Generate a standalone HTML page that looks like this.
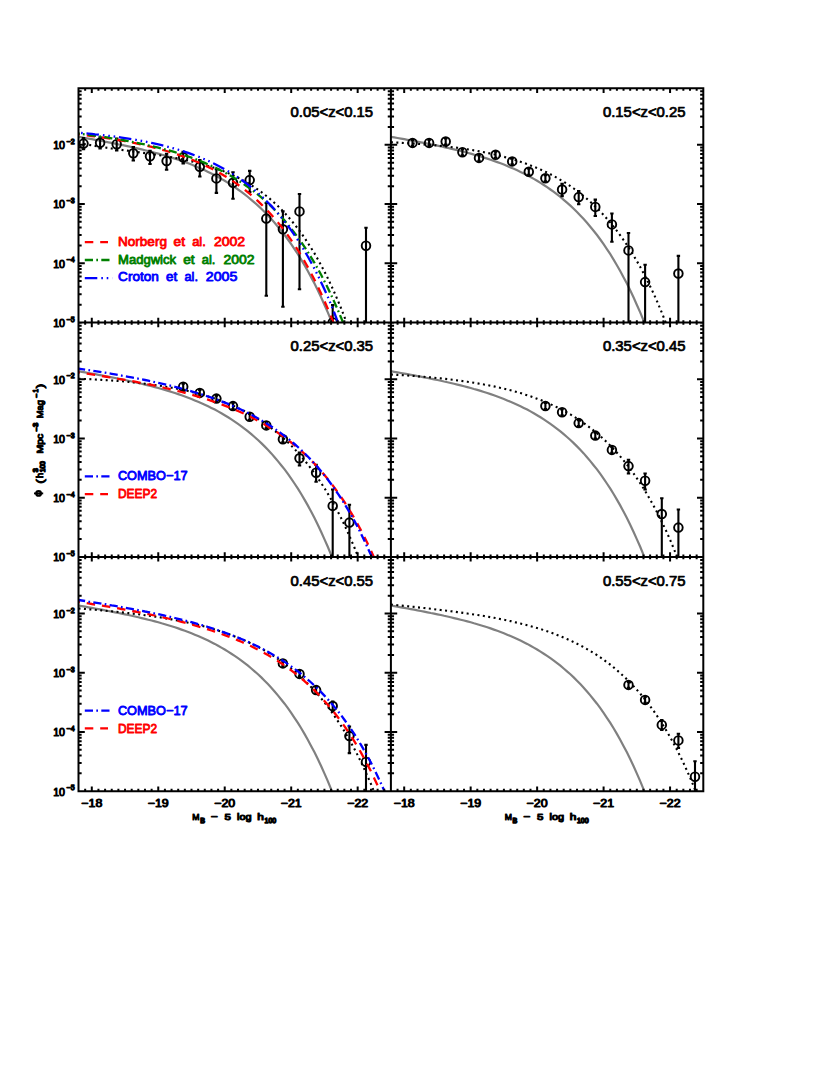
<!DOCTYPE html><html><head><meta charset="utf-8"><style>html,body{margin:0;padding:0;background:#fff}body{width:830px;height:1075px;position:relative;overflow:hidden;font-family:"Liberation Sans",sans-serif}</style></head><body><svg width="830" height="1075" viewBox="0 0 830 1075" style="position:absolute;left:0;top:0">
<rect width="830" height="1075" fill="#fff"/>
<path d="M78.5,136.8 L81.8,137.4 L85.1,138.0 L88.5,138.6 L91.8,139.2 L95.1,139.8 L98.4,140.4 L101.8,141.0 L105.1,141.7 L108.4,142.3 L111.7,142.9 L115.1,143.6 L118.4,144.3 L121.7,144.9 L125.0,145.6 L128.4,146.3 L131.7,147.1 L135.0,147.8 L138.3,148.6 L141.6,149.4 L145.0,150.2 L148.3,151.0 L151.6,151.8 L154.9,152.7 L158.3,153.6 L161.6,154.6 L164.9,155.5 L168.2,156.5 L171.6,157.6 L174.9,158.6 L178.2,159.7 L181.5,160.9 L184.9,162.1 L188.2,163.3 L191.5,164.6 L194.8,166.0 L198.1,167.4 L201.5,168.8 L204.8,170.3 L208.1,171.9 L211.4,173.5 L214.8,175.2 L218.1,177.0 L221.4,178.9 L224.7,180.8 L228.1,182.9 L231.4,185.0 L234.7,187.2 L238.0,189.5 L241.4,191.9 L244.7,194.4 L248.0,197.0 L251.3,199.8 L254.6,202.6 L258.0,205.6 L261.3,208.7 L264.6,212.0 L267.9,215.4 L271.3,219.0 L274.6,222.8 L277.9,226.7 L281.2,230.8 L284.6,235.0 L287.9,239.5 L291.2,244.2 L294.5,249.1 L297.9,254.2 L301.2,259.6 L304.5,265.2 L307.8,271.0 L311.1,277.2 L314.5,283.6 L317.8,290.3 L321.1,297.3 L324.4,304.7 L327.8,312.4 L331.1,320.4 L331.9,322.5" fill="none" stroke="#808080" stroke-width="2.2" stroke-dashoffset="0"/>
<path d="M390.9,136.8 L394.2,137.4 L397.5,138.0 L400.9,138.6 L404.2,139.2 L407.5,139.8 L410.8,140.4 L414.2,141.0 L417.5,141.7 L420.8,142.3 L424.1,142.9 L427.5,143.6 L430.8,144.3 L434.1,144.9 L437.4,145.6 L440.8,146.3 L444.1,147.1 L447.4,147.8 L450.7,148.6 L454.0,149.4 L457.4,150.2 L460.7,151.0 L464.0,151.8 L467.3,152.7 L470.7,153.6 L474.0,154.6 L477.3,155.5 L480.6,156.5 L484.0,157.6 L487.3,158.6 L490.6,159.7 L493.9,160.9 L497.3,162.1 L500.6,163.3 L503.9,164.6 L507.2,166.0 L510.5,167.4 L513.9,168.8 L517.2,170.3 L520.5,171.9 L523.8,173.5 L527.2,175.2 L530.5,177.0 L533.8,178.9 L537.1,180.8 L540.5,182.9 L543.8,185.0 L547.1,187.2 L550.4,189.5 L553.8,191.9 L557.1,194.4 L560.4,197.0 L563.7,199.8 L567.0,202.6 L570.4,205.6 L573.7,208.7 L577.0,212.0 L580.3,215.4 L583.7,219.0 L587.0,222.8 L590.3,226.7 L593.6,230.8 L597.0,235.0 L600.3,239.5 L603.6,244.2 L606.9,249.1 L610.3,254.2 L613.6,259.6 L616.9,265.2 L620.2,271.0 L623.5,277.2 L626.9,283.6 L630.2,290.3 L633.5,297.3 L636.8,304.7 L640.2,312.4 L643.5,320.4 L644.3,322.5" fill="none" stroke="#808080" stroke-width="2.2" stroke-dashoffset="0"/>
<path d="M78.5,371.2 L81.8,371.8 L85.1,372.4 L88.5,373.0 L91.8,373.6 L95.1,374.2 L98.4,374.8 L101.8,375.4 L105.1,376.1 L108.4,376.7 L111.7,377.3 L115.1,378.0 L118.4,378.7 L121.7,379.3 L125.0,380.0 L128.4,380.7 L131.7,381.5 L135.0,382.2 L138.3,383.0 L141.6,383.8 L145.0,384.6 L148.3,385.4 L151.6,386.2 L154.9,387.1 L158.3,388.0 L161.6,389.0 L164.9,389.9 L168.2,390.9 L171.6,392.0 L174.9,393.0 L178.2,394.1 L181.5,395.3 L184.9,396.5 L188.2,397.7 L191.5,399.0 L194.8,400.4 L198.1,401.8 L201.5,403.2 L204.8,404.7 L208.1,406.3 L211.4,407.9 L214.8,409.6 L218.1,411.4 L221.4,413.3 L224.7,415.2 L228.1,417.3 L231.4,419.4 L234.7,421.6 L238.0,423.9 L241.4,426.3 L244.7,428.8 L248.0,431.4 L251.3,434.2 L254.6,437.0 L258.0,440.0 L261.3,443.1 L264.6,446.4 L267.9,449.8 L271.3,453.4 L274.6,457.2 L277.9,461.1 L281.2,465.2 L284.6,469.4 L287.9,473.9 L291.2,478.6 L294.5,483.5 L297.9,488.6 L301.2,494.0 L304.5,499.6 L307.8,505.4 L311.1,511.6 L314.5,518.0 L317.8,524.7 L321.1,531.7 L324.4,539.1 L327.8,546.8 L331.1,554.8 L331.9,556.9" fill="none" stroke="#808080" stroke-width="2.2" stroke-dashoffset="0"/>
<path d="M390.9,371.2 L394.2,371.8 L397.5,372.4 L400.9,373.0 L404.2,373.6 L407.5,374.2 L410.8,374.8 L414.2,375.4 L417.5,376.1 L420.8,376.7 L424.1,377.3 L427.5,378.0 L430.8,378.7 L434.1,379.3 L437.4,380.0 L440.8,380.7 L444.1,381.5 L447.4,382.2 L450.7,383.0 L454.0,383.8 L457.4,384.6 L460.7,385.4 L464.0,386.2 L467.3,387.1 L470.7,388.0 L474.0,389.0 L477.3,389.9 L480.6,390.9 L484.0,392.0 L487.3,393.0 L490.6,394.1 L493.9,395.3 L497.3,396.5 L500.6,397.7 L503.9,399.0 L507.2,400.4 L510.5,401.8 L513.9,403.2 L517.2,404.7 L520.5,406.3 L523.8,407.9 L527.2,409.6 L530.5,411.4 L533.8,413.3 L537.1,415.2 L540.5,417.3 L543.8,419.4 L547.1,421.6 L550.4,423.9 L553.8,426.3 L557.1,428.8 L560.4,431.4 L563.7,434.2 L567.0,437.0 L570.4,440.0 L573.7,443.1 L577.0,446.4 L580.3,449.8 L583.7,453.4 L587.0,457.2 L590.3,461.1 L593.6,465.2 L597.0,469.4 L600.3,473.9 L603.6,478.6 L606.9,483.5 L610.3,488.6 L613.6,494.0 L616.9,499.6 L620.2,505.4 L623.5,511.6 L626.9,518.0 L630.2,524.7 L633.5,531.7 L636.8,539.1 L640.2,546.8 L643.5,554.8 L644.3,556.9" fill="none" stroke="#808080" stroke-width="2.2" stroke-dashoffset="0"/>
<path d="M78.5,605.5 L81.8,606.1 L85.1,606.7 L88.5,607.3 L91.8,607.9 L95.1,608.5 L98.4,609.1 L101.8,609.7 L105.1,610.4 L108.4,611.0 L111.7,611.6 L115.1,612.3 L118.4,613.0 L121.7,613.6 L125.0,614.3 L128.4,615.0 L131.7,615.8 L135.0,616.5 L138.3,617.3 L141.6,618.1 L145.0,618.9 L148.3,619.7 L151.6,620.5 L154.9,621.4 L158.3,622.3 L161.6,623.3 L164.9,624.2 L168.2,625.2 L171.6,626.3 L174.9,627.3 L178.2,628.4 L181.5,629.6 L184.9,630.8 L188.2,632.0 L191.5,633.3 L194.8,634.7 L198.1,636.1 L201.5,637.5 L204.8,639.0 L208.1,640.6 L211.4,642.2 L214.8,643.9 L218.1,645.7 L221.4,647.6 L224.7,649.5 L228.1,651.6 L231.4,653.7 L234.7,655.9 L238.0,658.2 L241.4,660.6 L244.7,663.1 L248.0,665.7 L251.3,668.5 L254.6,671.3 L258.0,674.3 L261.3,677.4 L264.6,680.7 L267.9,684.1 L271.3,687.7 L274.6,691.5 L277.9,695.4 L281.2,699.5 L284.6,703.7 L287.9,708.2 L291.2,712.9 L294.5,717.8 L297.9,722.9 L301.2,728.3 L304.5,733.9 L307.8,739.7 L311.1,745.9 L314.5,752.3 L317.8,759.0 L321.1,766.0 L324.4,773.4 L327.8,781.1 L331.1,789.1 L331.9,791.2" fill="none" stroke="#808080" stroke-width="2.2" stroke-dashoffset="0"/>
<path d="M390.9,605.5 L394.2,606.1 L397.5,606.7 L400.9,607.3 L404.2,607.9 L407.5,608.5 L410.8,609.1 L414.2,609.7 L417.5,610.4 L420.8,611.0 L424.1,611.6 L427.5,612.3 L430.8,613.0 L434.1,613.6 L437.4,614.3 L440.8,615.0 L444.1,615.8 L447.4,616.5 L450.7,617.3 L454.0,618.1 L457.4,618.9 L460.7,619.7 L464.0,620.5 L467.3,621.4 L470.7,622.3 L474.0,623.3 L477.3,624.2 L480.6,625.2 L484.0,626.3 L487.3,627.3 L490.6,628.4 L493.9,629.6 L497.3,630.8 L500.6,632.0 L503.9,633.3 L507.2,634.7 L510.5,636.1 L513.9,637.5 L517.2,639.0 L520.5,640.6 L523.8,642.2 L527.2,643.9 L530.5,645.7 L533.8,647.6 L537.1,649.5 L540.5,651.6 L543.8,653.7 L547.1,655.9 L550.4,658.2 L553.8,660.6 L557.1,663.1 L560.4,665.7 L563.7,668.5 L567.0,671.3 L570.4,674.3 L573.7,677.4 L577.0,680.7 L580.3,684.1 L583.7,687.7 L587.0,691.5 L590.3,695.4 L593.6,699.5 L597.0,703.7 L600.3,708.2 L603.6,712.9 L606.9,717.8 L610.3,722.9 L613.6,728.3 L616.9,733.9 L620.2,739.7 L623.5,745.9 L626.9,752.3 L630.2,759.0 L633.5,766.0 L636.8,773.4 L640.2,781.1 L643.5,789.1 L644.3,791.2" fill="none" stroke="#808080" stroke-width="2.2" stroke-dashoffset="0"/>
<path d="M78.5,142.9 L81.8,143.6 L85.1,144.2 L88.5,144.8 L91.8,145.3 L95.1,145.9 L98.4,146.4 L101.8,147.0 L105.1,147.5 L108.4,148.0 L111.7,148.5 L115.1,149.0 L118.4,149.4 L121.7,149.9 L125.0,150.4 L128.4,150.8 L131.7,151.3 L135.0,151.7 L138.3,152.2 L141.6,152.7 L145.0,153.1 L148.3,153.6 L151.6,154.1 L154.9,154.6 L158.3,155.1 L161.6,155.6 L164.9,156.2 L168.2,156.7 L171.6,157.3 L174.9,157.9 L178.2,158.5 L181.5,159.2 L184.9,159.9 L188.2,160.6 L191.5,161.4 L194.8,162.2 L198.1,163.0 L201.5,163.9 L204.8,164.9 L208.1,165.9 L211.4,166.9 L214.8,168.0 L218.1,169.2 L221.4,170.4 L224.7,171.7 L228.1,173.1 L231.4,174.6 L234.7,176.1 L238.0,177.7 L241.4,179.5 L244.7,181.3 L248.0,183.2 L251.3,185.2 L254.6,187.4 L258.0,189.7 L261.3,192.0 L264.6,194.6 L267.9,197.2 L271.3,200.0 L274.6,203.0 L277.9,206.1 L281.2,209.4 L284.6,212.9 L287.9,216.5 L291.2,220.3 L294.5,224.4 L297.9,228.6 L301.2,233.1 L304.5,237.8 L307.8,242.8 L311.1,248.0 L314.5,253.4 L317.8,259.2 L321.1,265.2 L324.4,271.5 L327.8,278.2 L331.1,285.2 L334.4,292.5 L337.7,300.2 L341.1,308.3 L344.4,316.8 L346.5,322.5" fill="none" stroke="#000" stroke-width="2.1" stroke-dasharray="2 3.45" stroke-dashoffset="0"/>
<path d="M390.9,142.3 L394.2,142.5 L397.5,142.6 L400.9,142.8 L404.2,143.0 L407.5,143.2 L410.8,143.4 L414.2,143.6 L417.5,143.9 L420.8,144.1 L424.1,144.4 L427.5,144.6 L430.8,144.9 L434.1,145.2 L437.4,145.5 L440.8,145.9 L444.1,146.2 L447.4,146.6 L450.7,147.0 L454.0,147.4 L457.4,147.8 L460.7,148.3 L464.0,148.8 L467.3,149.3 L470.7,149.8 L474.0,150.4 L477.3,150.9 L480.6,151.6 L484.0,152.2 L487.3,152.9 L490.6,153.6 L493.9,154.3 L497.3,155.1 L500.6,155.9 L503.9,156.8 L507.2,157.7 L510.5,158.6 L513.9,159.6 L517.2,160.7 L520.5,161.8 L523.8,162.9 L527.2,164.1 L530.5,165.4 L533.8,166.7 L537.1,168.1 L540.5,169.5 L543.8,171.0 L547.1,172.6 L550.4,174.3 L553.8,176.0 L557.1,177.9 L560.4,179.8 L563.7,181.8 L567.0,183.9 L570.4,186.1 L573.7,188.5 L577.0,190.9 L580.3,193.4 L583.7,196.1 L587.0,198.9 L590.3,201.8 L593.6,204.9 L597.0,208.1 L600.3,211.5 L603.6,215.0 L606.9,218.7 L610.3,222.6 L613.6,226.7 L616.9,230.9 L620.2,235.4 L623.5,240.0 L626.9,244.9 L630.2,250.0 L633.5,255.4 L636.8,261.0 L640.2,266.9 L643.5,273.0 L646.8,279.5 L650.1,286.3 L653.5,293.3 L656.8,300.7 L660.1,308.5 L663.4,316.6 L665.7,322.5" fill="none" stroke="#000" stroke-width="2.1" stroke-dasharray="2 3.45" stroke-dashoffset="0"/>
<path d="M78.5,378.7 L81.8,378.8 L85.1,379.0 L88.5,379.1 L91.8,379.3 L95.1,379.5 L98.4,379.7 L101.8,379.9 L105.1,380.1 L108.4,380.3 L111.7,380.5 L115.1,380.8 L118.4,381.0 L121.7,381.3 L125.0,381.6 L128.4,381.9 L131.7,382.2 L135.0,382.6 L138.3,382.9 L141.6,383.3 L145.0,383.7 L148.3,384.1 L151.6,384.5 L154.9,385.0 L158.3,385.5 L161.6,386.0 L164.9,386.5 L168.2,387.1 L171.6,387.7 L174.9,388.3 L178.2,388.9 L181.5,389.6 L184.9,390.3 L188.2,391.1 L191.5,391.9 L194.8,392.7 L198.1,393.6 L201.5,394.5 L204.8,395.4 L208.1,396.4 L211.4,397.5 L214.8,398.6 L218.1,399.7 L221.4,401.0 L224.7,402.2 L228.1,403.6 L231.4,405.0 L234.7,406.4 L238.0,408.0 L241.4,409.6 L244.7,411.3 L248.0,413.1 L251.3,414.9 L254.6,416.9 L258.0,418.9 L261.3,421.1 L264.6,423.3 L267.9,425.7 L271.3,428.1 L274.6,430.7 L277.9,433.4 L281.2,436.2 L284.6,439.2 L287.9,442.3 L291.2,445.6 L294.5,449.0 L297.9,452.6 L301.2,456.3 L304.5,460.3 L307.8,464.4 L311.1,468.7 L314.5,473.2 L317.8,478.0 L321.1,482.9 L324.4,488.1 L327.8,493.6 L331.1,499.3 L334.4,505.2 L337.7,511.5 L341.1,518.0 L344.4,524.9 L347.7,532.1 L351.0,539.6 L354.4,547.5 L357.7,555.7 L358.1,556.9" fill="none" stroke="#000" stroke-width="2.1" stroke-dasharray="2 3.45" stroke-dashoffset="0"/>
<path d="M390.9,374.5 L394.2,374.7 L397.5,374.9 L400.9,375.1 L404.2,375.3 L407.5,375.5 L410.8,375.8 L414.2,376.0 L417.5,376.3 L420.8,376.6 L424.1,376.8 L427.5,377.1 L430.8,377.4 L434.1,377.7 L437.4,378.1 L440.8,378.4 L444.1,378.8 L447.4,379.1 L450.7,379.5 L454.0,379.9 L457.4,380.4 L460.7,380.8 L464.0,381.3 L467.3,381.7 L470.7,382.2 L474.0,382.8 L477.3,383.3 L480.6,383.9 L484.0,384.5 L487.3,385.1 L490.6,385.8 L493.9,386.4 L497.3,387.2 L500.6,387.9 L503.9,388.7 L507.2,389.5 L510.5,390.3 L513.9,391.2 L517.2,392.2 L520.5,393.1 L523.8,394.2 L527.2,395.2 L530.5,396.3 L533.8,397.5 L537.1,398.7 L540.5,400.0 L543.8,401.3 L547.1,402.7 L550.4,404.2 L553.8,405.7 L557.1,407.3 L560.4,408.9 L563.7,410.7 L567.0,412.5 L570.4,414.4 L573.7,416.4 L577.0,418.5 L580.3,420.7 L583.7,423.0 L587.0,425.4 L590.3,427.9 L593.6,430.5 L597.0,433.3 L600.3,436.1 L603.6,439.1 L606.9,442.3 L610.3,445.6 L613.6,449.0 L616.9,452.7 L620.2,456.4 L623.5,460.4 L626.9,464.5 L630.2,468.9 L633.5,473.4 L636.8,478.2 L640.2,483.1 L643.5,488.3 L646.8,493.8 L650.1,499.5 L653.5,505.5 L656.8,511.7 L660.1,518.3 L663.4,525.1 L666.8,532.3 L670.1,539.8 L673.4,547.7 L676.7,555.9 L677.1,556.9" fill="none" stroke="#000" stroke-width="2.1" stroke-dasharray="2 3.45" stroke-dashoffset="0"/>
<path d="M78.5,608.5 L81.8,608.7 L85.1,609.0 L88.5,609.3 L91.8,609.5 L95.1,609.8 L98.4,610.1 L101.8,610.4 L105.1,610.7 L108.4,611.0 L111.7,611.3 L115.1,611.7 L118.4,612.0 L121.7,612.4 L125.0,612.7 L128.4,613.1 L131.7,613.5 L135.0,613.9 L138.3,614.3 L141.6,614.7 L145.0,615.2 L148.3,615.6 L151.6,616.1 L154.9,616.6 L158.3,617.1 L161.6,617.6 L164.9,618.2 L168.2,618.8 L171.6,619.4 L174.9,620.0 L178.2,620.6 L181.5,621.3 L184.9,622.0 L188.2,622.7 L191.5,623.4 L194.8,624.2 L198.1,625.0 L201.5,625.8 L204.8,626.7 L208.1,627.6 L211.4,628.6 L214.8,629.5 L218.1,630.6 L221.4,631.6 L224.7,632.8 L228.1,633.9 L231.4,635.1 L234.7,636.4 L238.0,637.7 L241.4,639.1 L244.7,640.5 L248.0,642.0 L251.3,643.6 L254.6,645.2 L258.0,646.9 L261.3,648.7 L264.6,650.5 L267.9,652.4 L271.3,654.5 L274.6,656.6 L277.9,658.8 L281.2,661.1 L284.6,663.5 L287.9,666.0 L291.2,668.6 L294.5,671.4 L297.9,674.2 L301.2,677.2 L304.5,680.4 L307.8,683.7 L311.1,687.1 L314.5,690.7 L317.8,694.4 L321.1,698.3 L324.4,702.4 L327.8,706.7 L331.1,711.2 L334.4,715.9 L337.7,720.8 L341.1,725.9 L344.4,731.3 L347.7,736.9 L351.0,742.8 L354.4,748.9 L357.7,755.3 L361.0,762.0 L364.3,769.1 L367.6,776.4 L371.0,784.1 L373.9,791.2" fill="none" stroke="#000" stroke-width="2.1" stroke-dasharray="2 3.45" stroke-dashoffset="0"/>
<path d="M390.9,604.5 L394.2,604.8 L397.5,605.2 L400.9,605.5 L404.2,605.9 L407.5,606.2 L410.8,606.6 L414.2,606.9 L417.5,607.3 L420.8,607.7 L424.1,608.0 L427.5,608.4 L430.8,608.8 L434.1,609.2 L437.4,609.6 L440.8,610.0 L444.1,610.4 L447.4,610.8 L450.7,611.2 L454.0,611.6 L457.4,612.1 L460.7,612.5 L464.0,613.0 L467.3,613.5 L470.7,614.0 L474.0,614.5 L477.3,615.0 L480.6,615.5 L484.0,616.0 L487.3,616.6 L490.6,617.2 L493.9,617.8 L497.3,618.4 L500.6,619.1 L503.9,619.7 L507.2,620.4 L510.5,621.1 L513.9,621.9 L517.2,622.7 L520.5,623.5 L523.8,624.3 L527.2,625.2 L530.5,626.1 L533.8,627.0 L537.1,628.0 L540.5,629.0 L543.8,630.1 L547.1,631.2 L550.4,632.4 L553.8,633.6 L557.1,634.9 L560.4,636.2 L563.7,637.6 L567.0,639.0 L570.4,640.5 L573.7,642.1 L577.0,643.7 L580.3,645.4 L583.7,647.2 L587.0,649.1 L590.3,651.0 L593.6,653.0 L597.0,655.2 L600.3,657.4 L603.6,659.7 L606.9,662.2 L610.3,664.7 L613.6,667.4 L616.9,670.2 L620.2,673.1 L623.5,676.1 L626.9,679.3 L630.2,682.7 L633.5,686.2 L636.8,689.8 L640.2,693.6 L643.5,697.6 L646.8,701.8 L650.1,706.2 L653.5,710.7 L656.8,715.5 L660.1,720.5 L663.4,725.8 L666.8,731.3 L670.1,737.0 L673.4,743.0 L676.7,749.3 L680.0,755.9 L683.4,762.8 L686.7,770.0 L690.0,777.5 L693.3,785.4 L695.7,791.2" fill="none" stroke="#000" stroke-width="2.1" stroke-dasharray="2 3.45" stroke-dashoffset="0"/>
<path d="M83.5,138.0V149.3M81.8,138.0h3.4M81.8,149.3h3.4" stroke="#000" stroke-width="2.1" fill="none"/>
<circle cx="83.5" cy="143.6" r="4.3" fill="none" stroke="#000" stroke-width="1.9"/>
<path d="M100.1,137.3V148.5M98.4,137.3h3.4M98.4,148.5h3.4" stroke="#000" stroke-width="2.1" fill="none"/>
<circle cx="100.1" cy="142.8" r="4.3" fill="none" stroke="#000" stroke-width="1.9"/>
<path d="M116.7,138.5V150.5M115.0,138.5h3.4M115.0,150.5h3.4" stroke="#000" stroke-width="2.1" fill="none"/>
<circle cx="116.7" cy="144.2" r="4.3" fill="none" stroke="#000" stroke-width="1.9"/>
<path d="M133.3,147.0V160.5M131.6,147.0h3.4M131.6,160.5h3.4" stroke="#000" stroke-width="2.1" fill="none"/>
<circle cx="133.3" cy="153.3" r="4.3" fill="none" stroke="#000" stroke-width="1.9"/>
<path d="M150.0,150.8V164.0M148.3,150.8h3.4M148.3,164.0h3.4" stroke="#000" stroke-width="2.1" fill="none"/>
<circle cx="150.0" cy="156.3" r="4.3" fill="none" stroke="#000" stroke-width="1.9"/>
<path d="M166.6,153.7V169.7M164.9,153.7h3.4M164.9,169.7h3.4" stroke="#000" stroke-width="2.1" fill="none"/>
<circle cx="166.6" cy="161.0" r="4.3" fill="none" stroke="#000" stroke-width="1.9"/>
<path d="M183.2,151.8V163.4M181.5,151.8h3.4M181.5,163.4h3.4" stroke="#000" stroke-width="2.1" fill="none"/>
<circle cx="183.2" cy="157.2" r="4.3" fill="none" stroke="#000" stroke-width="1.9"/>
<path d="M199.8,160.1V176.5M198.1,160.1h3.4M198.1,176.5h3.4" stroke="#000" stroke-width="2.1" fill="none"/>
<circle cx="199.8" cy="166.8" r="4.3" fill="none" stroke="#000" stroke-width="1.9"/>
<path d="M216.4,169.2V192.9M214.7,169.2h3.4M214.7,192.9h3.4" stroke="#000" stroke-width="2.1" fill="none"/>
<circle cx="216.4" cy="178.4" r="4.3" fill="none" stroke="#000" stroke-width="1.9"/>
<path d="M233.0,172.2V198.7M231.3,172.2h3.4M231.3,198.7h3.4" stroke="#000" stroke-width="2.1" fill="none"/>
<circle cx="233.0" cy="182.8" r="4.3" fill="none" stroke="#000" stroke-width="1.9"/>
<path d="M249.7,170.9V192.0M248.0,170.9h3.4M248.0,192.0h3.4" stroke="#000" stroke-width="2.1" fill="none"/>
<circle cx="249.7" cy="180.1" r="4.3" fill="none" stroke="#000" stroke-width="1.9"/>
<path d="M266.3,203.0V295.8M264.6,203.0h3.4M264.6,295.8h3.4" stroke="#000" stroke-width="2.1" fill="none"/>
<circle cx="266.3" cy="218.6" r="4.3" fill="none" stroke="#000" stroke-width="1.9"/>
<path d="M282.9,211.4V306.7M281.2,211.4h3.4M281.2,306.7h3.4" stroke="#000" stroke-width="2.1" fill="none"/>
<circle cx="282.9" cy="229.3" r="4.3" fill="none" stroke="#000" stroke-width="1.9"/>
<path d="M299.5,194.0V289.3M297.8,194.0h3.4M297.8,289.3h3.4" stroke="#000" stroke-width="2.1" fill="none"/>
<circle cx="299.5" cy="211.4" r="4.3" fill="none" stroke="#000" stroke-width="1.9"/>
<path d="M366.0,227.8V322.5M364.3,227.8h3.4" stroke="#000" stroke-width="2.1" fill="none"/>
<circle cx="366.0" cy="245.7" r="4.3" fill="none" stroke="#000" stroke-width="1.9"/>
<path d="M412.5,139.9V145.9M410.8,139.9h3.4M410.8,145.9h3.4" stroke="#000" stroke-width="2.1" fill="none"/>
<circle cx="412.5" cy="142.9" r="4.3" fill="none" stroke="#000" stroke-width="1.9"/>
<path d="M429.1,139.9V145.9M427.4,139.9h3.4M427.4,145.9h3.4" stroke="#000" stroke-width="2.1" fill="none"/>
<circle cx="429.1" cy="142.9" r="4.3" fill="none" stroke="#000" stroke-width="1.9"/>
<path d="M445.7,138.5V144.5M444.0,138.5h3.4M444.0,144.5h3.4" stroke="#000" stroke-width="2.1" fill="none"/>
<circle cx="445.7" cy="141.5" r="4.3" fill="none" stroke="#000" stroke-width="1.9"/>
<path d="M462.4,149.2V155.2M460.7,149.2h3.4M460.7,155.2h3.4" stroke="#000" stroke-width="2.1" fill="none"/>
<circle cx="462.4" cy="152.2" r="4.3" fill="none" stroke="#000" stroke-width="1.9"/>
<path d="M479.0,154.9V160.9M477.3,154.9h3.4M477.3,160.9h3.4" stroke="#000" stroke-width="2.1" fill="none"/>
<circle cx="479.0" cy="157.9" r="4.3" fill="none" stroke="#000" stroke-width="1.9"/>
<path d="M495.6,151.8V157.8M493.9,151.8h3.4M493.9,157.8h3.4" stroke="#000" stroke-width="2.1" fill="none"/>
<circle cx="495.6" cy="154.8" r="4.3" fill="none" stroke="#000" stroke-width="1.9"/>
<path d="M512.2,158.4V164.4M510.5,158.4h3.4M510.5,164.4h3.4" stroke="#000" stroke-width="2.1" fill="none"/>
<circle cx="512.2" cy="161.4" r="4.3" fill="none" stroke="#000" stroke-width="1.9"/>
<path d="M528.8,168.8V174.8M527.1,168.8h3.4M527.1,174.8h3.4" stroke="#000" stroke-width="2.1" fill="none"/>
<circle cx="528.8" cy="171.8" r="4.3" fill="none" stroke="#000" stroke-width="1.9"/>
<path d="M545.4,175.3V181.3M543.7,175.3h3.4M543.7,181.3h3.4" stroke="#000" stroke-width="2.1" fill="none"/>
<circle cx="545.4" cy="178.3" r="4.3" fill="none" stroke="#000" stroke-width="1.9"/>
<path d="M562.1,183.8V196.1M560.4,183.8h3.4M560.4,196.1h3.4" stroke="#000" stroke-width="2.1" fill="none"/>
<circle cx="562.1" cy="189.5" r="4.3" fill="none" stroke="#000" stroke-width="1.9"/>
<path d="M578.7,191.0V204.3M577.0,191.0h3.4M577.0,204.3h3.4" stroke="#000" stroke-width="2.1" fill="none"/>
<circle cx="578.7" cy="197.1" r="4.3" fill="none" stroke="#000" stroke-width="1.9"/>
<path d="M595.3,199.6V216.0M593.6,199.6h3.4M593.6,216.0h3.4" stroke="#000" stroke-width="2.1" fill="none"/>
<circle cx="595.3" cy="206.9" r="4.3" fill="none" stroke="#000" stroke-width="1.9"/>
<path d="M611.9,213.5V241.8M610.2,213.5h3.4M610.2,241.8h3.4" stroke="#000" stroke-width="2.1" fill="none"/>
<circle cx="611.9" cy="224.4" r="4.3" fill="none" stroke="#000" stroke-width="1.9"/>
<path d="M628.5,233.0V322.5M626.8,233.0h3.4" stroke="#000" stroke-width="2.1" fill="none"/>
<circle cx="628.5" cy="250.4" r="4.3" fill="none" stroke="#000" stroke-width="1.9"/>
<path d="M645.1,264.7V322.5M643.4,264.7h3.4" stroke="#000" stroke-width="2.1" fill="none"/>
<circle cx="645.1" cy="282.1" r="4.3" fill="none" stroke="#000" stroke-width="1.9"/>
<path d="M678.4,255.9V322.5M676.7,255.9h3.4" stroke="#000" stroke-width="2.1" fill="none"/>
<circle cx="678.4" cy="273.5" r="4.3" fill="none" stroke="#000" stroke-width="1.9"/>
<path d="M183.2,383.7V389.7M181.5,383.7h3.4M181.5,389.7h3.4" stroke="#000" stroke-width="2.1" fill="none"/>
<circle cx="183.2" cy="386.7" r="4.3" fill="none" stroke="#000" stroke-width="1.9"/>
<path d="M199.8,389.9V395.9M198.1,389.9h3.4M198.1,395.9h3.4" stroke="#000" stroke-width="2.1" fill="none"/>
<circle cx="199.8" cy="392.9" r="4.3" fill="none" stroke="#000" stroke-width="1.9"/>
<path d="M216.4,395.6V401.6M214.7,395.6h3.4M214.7,401.6h3.4" stroke="#000" stroke-width="2.1" fill="none"/>
<circle cx="216.4" cy="398.6" r="4.3" fill="none" stroke="#000" stroke-width="1.9"/>
<path d="M233.0,403.1V409.1M231.3,403.1h3.4M231.3,409.1h3.4" stroke="#000" stroke-width="2.1" fill="none"/>
<circle cx="233.0" cy="406.1" r="4.3" fill="none" stroke="#000" stroke-width="1.9"/>
<path d="M249.7,413.7V419.7M248.0,413.7h3.4M248.0,419.7h3.4" stroke="#000" stroke-width="2.1" fill="none"/>
<circle cx="249.7" cy="416.7" r="4.3" fill="none" stroke="#000" stroke-width="1.9"/>
<path d="M266.3,422.4V428.4M264.6,422.4h3.4M264.6,428.4h3.4" stroke="#000" stroke-width="2.1" fill="none"/>
<circle cx="266.3" cy="425.4" r="4.3" fill="none" stroke="#000" stroke-width="1.9"/>
<path d="M282.9,436.3V442.3M281.2,436.3h3.4M281.2,442.3h3.4" stroke="#000" stroke-width="2.1" fill="none"/>
<circle cx="282.9" cy="439.3" r="4.3" fill="none" stroke="#000" stroke-width="1.9"/>
<path d="M299.5,452.6V465.5M297.8,452.6h3.4M297.8,465.5h3.4" stroke="#000" stroke-width="2.1" fill="none"/>
<circle cx="299.5" cy="458.3" r="4.3" fill="none" stroke="#000" stroke-width="1.9"/>
<path d="M316.1,464.9V481.7M314.4,464.9h3.4M314.4,481.7h3.4" stroke="#000" stroke-width="2.1" fill="none"/>
<circle cx="316.1" cy="472.7" r="4.3" fill="none" stroke="#000" stroke-width="1.9"/>
<path d="M332.7,489.5V556.9M331.0,489.5h3.4" stroke="#000" stroke-width="2.1" fill="none"/>
<circle cx="332.7" cy="505.9" r="4.3" fill="none" stroke="#000" stroke-width="1.9"/>
<path d="M349.4,504.8V556.9M347.7,504.8h3.4" stroke="#000" stroke-width="2.1" fill="none"/>
<circle cx="349.4" cy="522.6" r="4.3" fill="none" stroke="#000" stroke-width="1.9"/>
<path d="M545.4,403.0V409.0M543.7,403.0h3.4M543.7,409.0h3.4" stroke="#000" stroke-width="2.1" fill="none"/>
<circle cx="545.4" cy="406.0" r="4.3" fill="none" stroke="#000" stroke-width="1.9"/>
<path d="M562.1,409.2V415.2M560.4,409.2h3.4M560.4,415.2h3.4" stroke="#000" stroke-width="2.1" fill="none"/>
<circle cx="562.1" cy="412.2" r="4.3" fill="none" stroke="#000" stroke-width="1.9"/>
<path d="M578.7,420.1V426.1M577.0,420.1h3.4M577.0,426.1h3.4" stroke="#000" stroke-width="2.1" fill="none"/>
<circle cx="578.7" cy="423.1" r="4.3" fill="none" stroke="#000" stroke-width="1.9"/>
<path d="M595.3,432.6V438.6M593.6,432.6h3.4M593.6,438.6h3.4" stroke="#000" stroke-width="2.1" fill="none"/>
<circle cx="595.3" cy="435.6" r="4.3" fill="none" stroke="#000" stroke-width="1.9"/>
<path d="M611.9,446.9V452.9M610.2,446.9h3.4M610.2,452.9h3.4" stroke="#000" stroke-width="2.1" fill="none"/>
<circle cx="611.9" cy="449.9" r="4.3" fill="none" stroke="#000" stroke-width="1.9"/>
<path d="M628.5,459.8V473.5M626.8,459.8h3.4M626.8,473.5h3.4" stroke="#000" stroke-width="2.1" fill="none"/>
<circle cx="628.5" cy="466.1" r="4.3" fill="none" stroke="#000" stroke-width="1.9"/>
<path d="M645.1,473.5V489.5M643.4,473.5h3.4M643.4,489.5h3.4" stroke="#000" stroke-width="2.1" fill="none"/>
<circle cx="645.1" cy="480.7" r="4.3" fill="none" stroke="#000" stroke-width="1.9"/>
<path d="M661.8,498.3V556.9M660.1,498.3h3.4" stroke="#000" stroke-width="2.1" fill="none"/>
<circle cx="661.8" cy="514.0" r="4.3" fill="none" stroke="#000" stroke-width="1.9"/>
<path d="M678.4,509.5V556.9M676.7,509.5h3.4" stroke="#000" stroke-width="2.1" fill="none"/>
<circle cx="678.4" cy="527.6" r="4.3" fill="none" stroke="#000" stroke-width="1.9"/>
<path d="M282.9,660.4V666.4M281.2,660.4h3.4M281.2,666.4h3.4" stroke="#000" stroke-width="2.1" fill="none"/>
<circle cx="282.9" cy="663.4" r="4.3" fill="none" stroke="#000" stroke-width="1.9"/>
<path d="M299.5,670.9V676.9M297.8,670.9h3.4M297.8,676.9h3.4" stroke="#000" stroke-width="2.1" fill="none"/>
<circle cx="299.5" cy="673.9" r="4.3" fill="none" stroke="#000" stroke-width="1.9"/>
<path d="M316.1,687.1V693.1M314.4,687.1h3.4M314.4,693.1h3.4" stroke="#000" stroke-width="2.1" fill="none"/>
<circle cx="316.1" cy="690.1" r="4.3" fill="none" stroke="#000" stroke-width="1.9"/>
<path d="M332.7,701.5V711.5M331.0,701.5h3.4M331.0,711.5h3.4" stroke="#000" stroke-width="2.1" fill="none"/>
<circle cx="332.7" cy="706.0" r="4.3" fill="none" stroke="#000" stroke-width="1.9"/>
<path d="M349.4,726.5V753.1M347.7,726.5h3.4M347.7,753.1h3.4" stroke="#000" stroke-width="2.1" fill="none"/>
<circle cx="349.4" cy="736.1" r="4.3" fill="none" stroke="#000" stroke-width="1.9"/>
<path d="M366.0,744.9V791.2M364.3,744.9h3.4" stroke="#000" stroke-width="2.1" fill="none"/>
<circle cx="366.0" cy="761.9" r="4.3" fill="none" stroke="#000" stroke-width="1.9"/>
<path d="M628.5,681.9V687.9M626.8,681.9h3.4M626.8,687.9h3.4" stroke="#000" stroke-width="2.1" fill="none"/>
<circle cx="628.5" cy="684.9" r="4.3" fill="none" stroke="#000" stroke-width="1.9"/>
<path d="M645.1,696.9V702.9M643.4,696.9h3.4M643.4,702.9h3.4" stroke="#000" stroke-width="2.1" fill="none"/>
<circle cx="645.1" cy="699.9" r="4.3" fill="none" stroke="#000" stroke-width="1.9"/>
<path d="M661.8,720.0V730.0M660.1,720.0h3.4M660.1,730.0h3.4" stroke="#000" stroke-width="2.1" fill="none"/>
<circle cx="661.8" cy="724.9" r="4.3" fill="none" stroke="#000" stroke-width="1.9"/>
<path d="M678.4,733.7V748.0M676.7,733.7h3.4M676.7,748.0h3.4" stroke="#000" stroke-width="2.1" fill="none"/>
<circle cx="678.4" cy="740.4" r="4.3" fill="none" stroke="#000" stroke-width="1.9"/>
<path d="M695.0,761.3V791.2M693.3,761.3h3.4" stroke="#000" stroke-width="2.1" fill="none"/>
<circle cx="695.0" cy="776.7" r="4.3" fill="none" stroke="#000" stroke-width="1.9"/>
<clipPath id="cp1"><rect x="78.5" y="88.3" width="312.4" height="234.2"/></clipPath>
<g clip-path="url(#cp1)"><path d="M332.7,305.1V322.5M331.0,305.1h3.4" stroke="#000" stroke-width="2.1" fill="none"/><circle cx="332.7" cy="322.4" r="4.3" fill="none" stroke="#000" stroke-width="1.9"/></g>
<path d="M78.5,134.3 L81.8,134.7 L85.1,135.1 L88.5,135.5 L91.8,136.0 L95.1,136.4 L98.4,136.9 L101.8,137.4 L105.1,137.9 L108.4,138.4 L111.7,138.9 L115.1,139.5 L118.4,140.0 L121.7,140.6 L125.0,141.2 L128.4,141.8 L131.7,142.5 L135.0,143.2 L138.3,143.9 L141.6,144.6 L145.0,145.4 L148.3,146.1 L151.6,146.9 L154.9,147.8 L158.3,148.7 L161.6,149.6 L164.9,150.5 L168.2,151.5 L171.6,152.5 L174.9,153.6 L178.2,154.7 L181.5,155.8 L184.9,157.0 L188.2,158.3 L191.5,159.6 L194.8,160.9 L198.1,162.3 L201.5,163.8 L204.8,165.3 L208.1,166.9 L211.4,168.6 L214.8,170.3 L218.1,172.1 L221.4,174.0 L224.7,176.0 L228.1,178.0 L231.4,180.2 L234.7,182.4 L238.0,184.8 L241.4,187.2 L244.7,189.7 L248.0,192.4 L251.3,195.2 L254.6,198.1 L258.0,201.1 L261.3,204.3 L264.6,207.6 L267.9,211.1 L271.3,214.7 L274.6,218.5 L277.9,222.4 L281.2,226.5 L284.6,230.8 L287.9,235.4 L291.2,240.1 L294.5,245.0 L297.9,250.2 L301.2,255.6 L304.5,261.2 L307.8,267.1 L311.1,273.3 L314.5,279.7 L317.8,286.5 L321.1,293.6 L324.4,300.9 L327.8,308.7 L331.1,316.8 L333.3,322.5" fill="none" stroke="#ff0000" stroke-width="2.3" stroke-dasharray="8.5 6.9" stroke-dashoffset="7.1"/>
<path d="M78.5,133.5 L81.8,134.0 L85.1,134.4 L88.5,134.8 L91.8,135.3 L95.1,135.7 L98.4,136.2 L101.8,136.7 L105.1,137.2 L108.4,137.7 L111.7,138.3 L115.1,138.8 L118.4,139.4 L121.7,139.9 L125.0,140.5 L128.4,141.1 L131.7,141.8 L135.0,142.4 L138.3,143.1 L141.6,143.8 L145.0,144.5 L148.3,145.3 L151.6,146.0 L154.9,146.8 L158.3,147.6 L161.6,148.5 L164.9,149.4 L168.2,150.3 L171.6,151.2 L174.9,152.2 L178.2,153.2 L181.5,154.3 L184.9,155.4 L188.2,156.5 L191.5,157.7 L194.8,158.9 L198.1,160.2 L201.5,161.5 L204.8,162.9 L208.1,164.4 L211.4,165.9 L214.8,167.4 L218.1,169.0 L221.4,170.7 L224.7,172.5 L228.1,174.3 L231.4,176.2 L234.7,178.2 L238.0,180.2 L241.4,182.4 L244.7,184.7 L248.0,187.0 L251.3,189.4 L254.6,192.0 L258.0,194.6 L261.3,197.4 L264.6,200.3 L267.9,203.3 L271.3,206.5 L274.6,209.8 L277.9,213.2 L281.2,216.8 L284.6,220.6 L287.9,224.5 L291.2,228.6 L294.5,232.9 L297.9,237.4 L301.2,242.0 L304.5,246.9 L307.8,252.0 L311.1,257.3 L314.5,262.9 L317.8,268.7 L321.1,274.8 L324.4,281.2 L327.8,287.9 L331.1,294.8 L334.4,302.1 L337.7,309.7 L341.1,317.7 L343.0,322.5" fill="none" stroke="#008000" stroke-width="2.3" stroke-dasharray="8.2 3.3 1.7 3.3" stroke-dashoffset="7.0"/>
<path d="M78.5,132.7 L81.8,133.0 L85.1,133.3 L88.5,133.6 L91.8,133.9 L95.1,134.3 L98.4,134.6 L101.8,135.0 L105.1,135.4 L108.4,135.8 L111.7,136.2 L115.1,136.7 L118.4,137.1 L121.7,137.6 L125.0,138.1 L128.4,138.6 L131.7,139.1 L135.0,139.7 L138.3,140.3 L141.6,140.9 L145.0,141.5 L148.3,142.2 L151.6,142.9 L154.9,143.6 L158.3,144.4 L161.6,145.2 L164.9,146.0 L168.2,146.9 L171.6,147.8 L174.9,148.7 L178.2,149.7 L181.5,150.7 L184.9,151.8 L188.2,152.9 L191.5,154.1 L194.8,155.3 L198.1,156.6 L201.5,158.0 L204.8,159.4 L208.1,160.8 L211.4,162.4 L214.8,164.0 L218.1,165.7 L221.4,167.4 L224.7,169.2 L228.1,171.2 L231.4,173.2 L234.7,175.3 L238.0,177.5 L241.4,179.8 L244.7,182.2 L248.0,184.7 L251.3,187.4 L254.6,190.1 L258.0,193.0 L261.3,196.0 L264.6,199.2 L267.9,202.5 L271.3,205.9 L274.6,209.6 L277.9,213.4 L281.2,217.3 L284.6,221.5 L287.9,225.8 L291.2,230.4 L294.5,235.1 L297.9,240.1 L301.2,245.3 L304.5,250.8 L307.8,256.5 L311.1,262.5 L314.5,268.7 L317.8,275.3 L321.1,282.2 L324.4,289.3 L327.8,296.9 L331.1,304.7 L334.4,313.0 L337.7,321.6 L338.1,322.5" fill="none" stroke="#0000ff" stroke-width="2.3" stroke-dasharray="12.5 4 1.6 3.8 1.6 3.8 1.6 3.8" stroke-dashoffset="24.7"/>
<path d="M78.5,372.4 L81.8,372.9 L85.1,373.4 L88.5,373.9 L91.8,374.4 L95.1,374.9 L98.4,375.5 L101.8,376.0 L105.1,376.5 L108.4,377.1 L111.7,377.6 L115.1,378.2 L118.4,378.8 L121.7,379.3 L125.0,379.9 L128.4,380.5 L131.7,381.1 L135.0,381.7 L138.3,382.4 L141.6,383.0 L145.0,383.7 L148.3,384.4 L151.6,385.0 L154.9,385.7 L158.3,386.5 L161.6,387.2 L164.9,388.0 L168.2,388.7 L171.6,389.5 L174.9,390.3 L178.2,391.2 L181.5,392.0 L184.9,392.9 L188.2,393.8 L191.5,394.7 L194.8,395.6 L198.1,396.6 L201.5,397.6 L204.8,398.7 L208.1,399.7 L211.4,400.8 L214.8,402.0 L218.1,403.1 L221.4,404.3 L224.7,405.6 L228.1,406.9 L231.4,408.2 L234.7,409.6 L238.0,411.0 L241.4,412.5 L244.7,414.0 L248.0,415.6 L251.3,417.2 L254.6,419.0 L258.0,420.7 L261.3,422.5 L264.6,424.4 L267.9,426.4 L271.3,428.5 L274.6,430.6 L277.9,432.8 L281.2,435.1 L284.6,437.5 L287.9,439.9 L291.2,442.5 L294.5,445.2 L297.9,448.0 L301.2,450.9 L304.5,453.9 L307.8,457.1 L311.1,460.4 L314.5,463.8 L317.8,467.4 L321.1,471.1 L324.4,475.0 L327.8,479.0 L331.1,483.2 L334.4,487.6 L337.7,492.2 L341.1,497.0 L344.4,502.0 L347.7,507.2 L351.0,512.6 L354.4,518.3 L357.7,524.2 L361.0,530.4 L364.3,536.9 L367.6,543.6 L371.0,550.7 L373.8,556.9" fill="none" stroke="#ff0000" stroke-width="2.3" stroke-dasharray="8.5 6.9" stroke-dashoffset="7.1"/>
<path d="M78.5,368.6 L81.8,369.1 L85.1,369.6 L88.5,370.1 L91.8,370.6 L95.1,371.1 L98.4,371.6 L101.8,372.2 L105.1,372.7 L108.4,373.3 L111.7,373.8 L115.1,374.4 L118.4,375.0 L121.7,375.6 L125.0,376.2 L128.4,376.8 L131.7,377.4 L135.0,378.0 L138.3,378.7 L141.6,379.3 L145.0,380.0 L148.3,380.7 L151.6,381.4 L154.9,382.1 L158.3,382.8 L161.6,383.6 L164.9,384.4 L168.2,385.2 L171.6,386.0 L174.9,386.8 L178.2,387.7 L181.5,388.5 L184.9,389.4 L188.2,390.4 L191.5,391.3 L194.8,392.3 L198.1,393.3 L201.5,394.3 L204.8,395.4 L208.1,396.5 L211.4,397.7 L214.8,398.8 L218.1,400.1 L221.4,401.3 L224.7,402.6 L228.1,403.9 L231.4,405.3 L234.7,406.8 L238.0,408.3 L241.4,409.8 L244.7,411.4 L248.0,413.0 L251.3,414.7 L254.6,416.5 L258.0,418.4 L261.3,420.3 L264.6,422.3 L267.9,424.3 L271.3,426.5 L274.6,428.7 L277.9,431.0 L281.2,433.4 L284.6,435.9 L287.9,438.5 L291.2,441.2 L294.5,444.0 L297.9,447.0 L301.2,450.0 L304.5,453.2 L307.8,456.5 L311.1,459.9 L314.5,463.5 L317.8,467.3 L321.1,471.2 L324.4,475.3 L327.8,479.5 L331.1,484.0 L334.4,488.6 L337.7,493.4 L341.1,498.4 L344.4,503.7 L347.7,509.2 L351.0,514.9 L354.4,520.9 L357.7,527.1 L361.0,533.7 L364.3,540.5 L367.6,547.6 L371.0,555.0 L371.8,556.9" fill="none" stroke="#0000ff" stroke-width="2.3" stroke-dasharray="8.2 3.3 1.7 3.3" stroke-dashoffset="1.5"/>
<path d="M78.5,601.9 L81.8,602.4 L85.1,602.9 L88.5,603.4 L91.8,604.0 L95.1,604.5 L98.4,605.0 L101.8,605.6 L105.1,606.1 L108.4,606.7 L111.7,607.3 L115.1,607.8 L118.4,608.4 L121.7,609.0 L125.0,609.6 L128.4,610.2 L131.7,610.9 L135.0,611.5 L138.3,612.1 L141.6,612.8 L145.0,613.5 L148.3,614.1 L151.6,614.8 L154.9,615.5 L158.3,616.3 L161.6,617.0 L164.9,617.8 L168.2,618.5 L171.6,619.3 L174.9,620.1 L178.2,620.9 L181.5,621.8 L184.9,622.7 L188.2,623.5 L191.5,624.5 L194.8,625.4 L198.1,626.4 L201.5,627.3 L204.8,628.4 L208.1,629.4 L211.4,630.5 L214.8,631.6 L218.1,632.7 L221.4,633.9 L224.7,635.1 L228.1,636.4 L231.4,637.6 L234.7,639.0 L238.0,640.4 L241.4,641.8 L244.7,643.2 L248.0,644.8 L251.3,646.3 L254.6,648.0 L258.0,649.7 L261.3,651.4 L264.6,653.2 L267.9,655.1 L271.3,657.0 L274.6,659.1 L277.9,661.1 L281.2,663.3 L284.6,665.6 L287.9,667.9 L291.2,670.4 L294.5,672.9 L297.9,675.5 L301.2,678.3 L304.5,681.1 L307.8,684.1 L311.1,687.2 L314.5,690.4 L317.8,693.8 L321.1,697.2 L324.4,700.9 L327.8,704.7 L331.1,708.6 L334.4,712.7 L337.7,717.0 L341.1,721.5 L344.4,726.1 L347.7,731.0 L351.0,736.1 L354.4,741.4 L357.7,746.9 L361.0,752.6 L364.3,758.7 L367.6,764.9 L371.0,771.5 L374.3,778.4 L377.6,785.5 L380.1,791.2" fill="none" stroke="#ff0000" stroke-width="2.3" stroke-dasharray="8.5 6.9" stroke-dashoffset="7.1"/>
<path d="M78.5,600.0 L81.8,600.5 L85.1,601.0 L88.5,601.6 L91.8,602.1 L95.1,602.6 L98.4,603.1 L101.8,603.7 L105.1,604.2 L108.4,604.8 L111.7,605.4 L115.1,605.9 L118.4,606.5 L121.7,607.1 L125.0,607.7 L128.4,608.3 L131.7,608.9 L135.0,609.5 L138.3,610.2 L141.6,610.8 L145.0,611.5 L148.3,612.1 L151.6,612.8 L154.9,613.5 L158.3,614.2 L161.6,614.9 L164.9,615.7 L168.2,616.4 L171.6,617.2 L174.9,618.0 L178.2,618.8 L181.5,619.6 L184.9,620.5 L188.2,621.3 L191.5,622.2 L194.8,623.1 L198.1,624.1 L201.5,625.0 L204.8,626.0 L208.1,627.0 L211.4,628.1 L214.8,629.2 L218.1,630.3 L221.4,631.4 L224.7,632.6 L228.1,633.8 L231.4,635.0 L234.7,636.3 L238.0,637.6 L241.4,639.0 L244.7,640.4 L248.0,641.9 L251.3,643.4 L254.6,645.0 L258.0,646.6 L261.3,648.3 L264.6,650.0 L267.9,651.8 L271.3,653.7 L274.6,655.6 L277.9,657.6 L281.2,659.7 L284.6,661.9 L287.9,664.1 L291.2,666.5 L294.5,668.9 L297.9,671.4 L301.2,674.0 L304.5,676.8 L307.8,679.6 L311.1,682.5 L314.5,685.6 L317.8,688.8 L321.1,692.1 L324.4,695.6 L327.8,699.2 L331.1,703.0 L334.4,706.9 L337.7,711.0 L341.1,715.2 L344.4,719.7 L347.7,724.3 L351.0,729.1 L354.4,734.2 L357.7,739.4 L361.0,744.9 L364.3,750.6 L367.6,756.6 L371.0,762.8 L374.3,769.4 L377.6,776.2 L380.9,783.3 L384.3,790.7 L384.5,791.2" fill="none" stroke="#0000ff" stroke-width="2.3" stroke-dasharray="8.2 3.3 1.7 3.3" stroke-dashoffset="1.5"/>
<path d="M78.5,88.3H390.9V322.5H78.5ZM85.15,322.5v-2.35M85.15,88.3v2.35M91.79,322.5v-4.7M91.79,88.3v4.7M98.44,322.5v-2.35M98.44,88.3v2.35M105.09,322.5v-2.35M105.09,88.3v2.35M111.73,322.5v-2.35M111.73,88.3v2.35M118.38,322.5v-2.35M118.38,88.3v2.35M125.03,322.5v-2.35M125.03,88.3v2.35M131.68,322.5v-2.35M131.68,88.3v2.35M138.32,322.5v-2.35M138.32,88.3v2.35M144.97,322.5v-2.35M144.97,88.3v2.35M151.62,322.5v-2.35M151.62,88.3v2.35M158.26,322.5v-4.7M158.26,88.3v4.7M164.91,322.5v-2.35M164.91,88.3v2.35M171.56,322.5v-2.35M171.56,88.3v2.35M178.20,322.5v-2.35M178.20,88.3v2.35M184.85,322.5v-2.35M184.85,88.3v2.35M191.50,322.5v-2.35M191.50,88.3v2.35M198.15,322.5v-2.35M198.15,88.3v2.35M204.79,322.5v-2.35M204.79,88.3v2.35M211.44,322.5v-2.35M211.44,88.3v2.35M218.09,322.5v-2.35M218.09,88.3v2.35M224.73,322.5v-4.7M224.73,88.3v4.7M231.38,322.5v-2.35M231.38,88.3v2.35M238.03,322.5v-2.35M238.03,88.3v2.35M244.68,322.5v-2.35M244.68,88.3v2.35M251.32,322.5v-2.35M251.32,88.3v2.35M257.97,322.5v-2.35M257.97,88.3v2.35M264.62,322.5v-2.35M264.62,88.3v2.35M271.26,322.5v-2.35M271.26,88.3v2.35M277.91,322.5v-2.35M277.91,88.3v2.35M284.56,322.5v-2.35M284.56,88.3v2.35M291.20,322.5v-4.7M291.20,88.3v4.7M297.85,322.5v-2.35M297.85,88.3v2.35M304.50,322.5v-2.35M304.50,88.3v2.35M311.14,322.5v-2.35M311.14,88.3v2.35M317.79,322.5v-2.35M317.79,88.3v2.35M324.44,322.5v-2.35M324.44,88.3v2.35M331.09,322.5v-2.35M331.09,88.3v2.35M337.73,322.5v-2.35M337.73,88.3v2.35M344.38,322.5v-2.35M344.38,88.3v2.35M351.03,322.5v-2.35M351.03,88.3v2.35M357.67,322.5v-4.7M357.67,88.3v4.7M364.32,322.5v-2.35M364.32,88.3v2.35M370.97,322.5v-2.35M370.97,88.3v2.35M377.62,322.5v-2.35M377.62,88.3v2.35M384.26,322.5v-2.35M384.26,88.3v2.35M390.91,322.5v-2.35M390.91,88.3v2.35M78.5,322.50h6.3M390.9,322.50h-6.3M78.5,304.67h3.15M390.9,304.67h-3.15M78.5,294.24h3.15M390.9,294.24h-3.15M78.5,286.84h3.15M390.9,286.84h-3.15M78.5,281.10h3.15M390.9,281.10h-3.15M78.5,276.41h3.15M390.9,276.41h-3.15M78.5,272.44h3.15M390.9,272.44h-3.15M78.5,269.01h3.15M390.9,269.01h-3.15M78.5,265.98h3.15M390.9,265.98h-3.15M78.5,263.27h6.3M390.9,263.27h-6.3M78.5,245.44h3.15M390.9,245.44h-3.15M78.5,235.01h3.15M390.9,235.01h-3.15M78.5,227.61h3.15M390.9,227.61h-3.15M78.5,221.87h3.15M390.9,221.87h-3.15M78.5,217.18h3.15M390.9,217.18h-3.15M78.5,213.21h3.15M390.9,213.21h-3.15M78.5,209.78h3.15M390.9,209.78h-3.15M78.5,206.75h3.15M390.9,206.75h-3.15M78.5,204.04h6.3M390.9,204.04h-6.3M78.5,186.21h3.15M390.9,186.21h-3.15M78.5,175.78h3.15M390.9,175.78h-3.15M78.5,168.38h3.15M390.9,168.38h-3.15M78.5,162.64h3.15M390.9,162.64h-3.15M78.5,157.95h3.15M390.9,157.95h-3.15M78.5,153.98h3.15M390.9,153.98h-3.15M78.5,150.55h3.15M390.9,150.55h-3.15M78.5,147.52h3.15M390.9,147.52h-3.15M78.5,144.81h6.3M390.9,144.81h-6.3M78.5,126.98h3.15M390.9,126.98h-3.15M78.5,116.55h3.15M390.9,116.55h-3.15M78.5,109.15h3.15M390.9,109.15h-3.15M78.5,103.41h3.15M390.9,103.41h-3.15M78.5,98.72h3.15M390.9,98.72h-3.15M78.5,94.75h3.15M390.9,94.75h-3.15M78.5,91.32h3.15M390.9,91.32h-3.15M78.5,88.29h3.15M390.9,88.29h-3.15M390.9,88.3H703.3V322.5H390.9ZM397.55,322.5v-2.35M397.55,88.3v2.35M404.19,322.5v-4.7M404.19,88.3v4.7M410.84,322.5v-2.35M410.84,88.3v2.35M417.49,322.5v-2.35M417.49,88.3v2.35M424.13,322.5v-2.35M424.13,88.3v2.35M430.78,322.5v-2.35M430.78,88.3v2.35M437.43,322.5v-2.35M437.43,88.3v2.35M444.08,322.5v-2.35M444.08,88.3v2.35M450.72,322.5v-2.35M450.72,88.3v2.35M457.37,322.5v-2.35M457.37,88.3v2.35M464.02,322.5v-2.35M464.02,88.3v2.35M470.66,322.5v-4.7M470.66,88.3v4.7M477.31,322.5v-2.35M477.31,88.3v2.35M483.96,322.5v-2.35M483.96,88.3v2.35M490.60,322.5v-2.35M490.60,88.3v2.35M497.25,322.5v-2.35M497.25,88.3v2.35M503.90,322.5v-2.35M503.90,88.3v2.35M510.55,322.5v-2.35M510.55,88.3v2.35M517.19,322.5v-2.35M517.19,88.3v2.35M523.84,322.5v-2.35M523.84,88.3v2.35M530.49,322.5v-2.35M530.49,88.3v2.35M537.13,322.5v-4.7M537.13,88.3v4.7M543.78,322.5v-2.35M543.78,88.3v2.35M550.43,322.5v-2.35M550.43,88.3v2.35M557.08,322.5v-2.35M557.08,88.3v2.35M563.72,322.5v-2.35M563.72,88.3v2.35M570.37,322.5v-2.35M570.37,88.3v2.35M577.02,322.5v-2.35M577.02,88.3v2.35M583.66,322.5v-2.35M583.66,88.3v2.35M590.31,322.5v-2.35M590.31,88.3v2.35M596.96,322.5v-2.35M596.96,88.3v2.35M603.60,322.5v-4.7M603.60,88.3v4.7M610.25,322.5v-2.35M610.25,88.3v2.35M616.90,322.5v-2.35M616.90,88.3v2.35M623.54,322.5v-2.35M623.54,88.3v2.35M630.19,322.5v-2.35M630.19,88.3v2.35M636.84,322.5v-2.35M636.84,88.3v2.35M643.49,322.5v-2.35M643.49,88.3v2.35M650.13,322.5v-2.35M650.13,88.3v2.35M656.78,322.5v-2.35M656.78,88.3v2.35M663.43,322.5v-2.35M663.43,88.3v2.35M670.07,322.5v-4.7M670.07,88.3v4.7M676.72,322.5v-2.35M676.72,88.3v2.35M683.37,322.5v-2.35M683.37,88.3v2.35M690.01,322.5v-2.35M690.01,88.3v2.35M696.66,322.5v-2.35M696.66,88.3v2.35M703.31,322.5v-2.35M703.31,88.3v2.35M390.9,322.50h6.3M703.3,322.50h-6.3M390.9,304.67h3.15M703.3,304.67h-3.15M390.9,294.24h3.15M703.3,294.24h-3.15M390.9,286.84h3.15M703.3,286.84h-3.15M390.9,281.10h3.15M703.3,281.10h-3.15M390.9,276.41h3.15M703.3,276.41h-3.15M390.9,272.44h3.15M703.3,272.44h-3.15M390.9,269.01h3.15M703.3,269.01h-3.15M390.9,265.98h3.15M703.3,265.98h-3.15M390.9,263.27h6.3M703.3,263.27h-6.3M390.9,245.44h3.15M703.3,245.44h-3.15M390.9,235.01h3.15M703.3,235.01h-3.15M390.9,227.61h3.15M703.3,227.61h-3.15M390.9,221.87h3.15M703.3,221.87h-3.15M390.9,217.18h3.15M703.3,217.18h-3.15M390.9,213.21h3.15M703.3,213.21h-3.15M390.9,209.78h3.15M703.3,209.78h-3.15M390.9,206.75h3.15M703.3,206.75h-3.15M390.9,204.04h6.3M703.3,204.04h-6.3M390.9,186.21h3.15M703.3,186.21h-3.15M390.9,175.78h3.15M703.3,175.78h-3.15M390.9,168.38h3.15M703.3,168.38h-3.15M390.9,162.64h3.15M703.3,162.64h-3.15M390.9,157.95h3.15M703.3,157.95h-3.15M390.9,153.98h3.15M703.3,153.98h-3.15M390.9,150.55h3.15M703.3,150.55h-3.15M390.9,147.52h3.15M703.3,147.52h-3.15M390.9,144.81h6.3M703.3,144.81h-6.3M390.9,126.98h3.15M703.3,126.98h-3.15M390.9,116.55h3.15M703.3,116.55h-3.15M390.9,109.15h3.15M703.3,109.15h-3.15M390.9,103.41h3.15M703.3,103.41h-3.15M390.9,98.72h3.15M703.3,98.72h-3.15M390.9,94.75h3.15M703.3,94.75h-3.15M390.9,91.32h3.15M703.3,91.32h-3.15M390.9,88.29h3.15M703.3,88.29h-3.15M78.5,322.5H390.9V556.9H78.5ZM85.15,556.9v-2.35M85.15,322.5v2.35M91.79,556.9v-4.7M91.79,322.5v4.7M98.44,556.9v-2.35M98.44,322.5v2.35M105.09,556.9v-2.35M105.09,322.5v2.35M111.73,556.9v-2.35M111.73,322.5v2.35M118.38,556.9v-2.35M118.38,322.5v2.35M125.03,556.9v-2.35M125.03,322.5v2.35M131.68,556.9v-2.35M131.68,322.5v2.35M138.32,556.9v-2.35M138.32,322.5v2.35M144.97,556.9v-2.35M144.97,322.5v2.35M151.62,556.9v-2.35M151.62,322.5v2.35M158.26,556.9v-4.7M158.26,322.5v4.7M164.91,556.9v-2.35M164.91,322.5v2.35M171.56,556.9v-2.35M171.56,322.5v2.35M178.20,556.9v-2.35M178.20,322.5v2.35M184.85,556.9v-2.35M184.85,322.5v2.35M191.50,556.9v-2.35M191.50,322.5v2.35M198.15,556.9v-2.35M198.15,322.5v2.35M204.79,556.9v-2.35M204.79,322.5v2.35M211.44,556.9v-2.35M211.44,322.5v2.35M218.09,556.9v-2.35M218.09,322.5v2.35M224.73,556.9v-4.7M224.73,322.5v4.7M231.38,556.9v-2.35M231.38,322.5v2.35M238.03,556.9v-2.35M238.03,322.5v2.35M244.68,556.9v-2.35M244.68,322.5v2.35M251.32,556.9v-2.35M251.32,322.5v2.35M257.97,556.9v-2.35M257.97,322.5v2.35M264.62,556.9v-2.35M264.62,322.5v2.35M271.26,556.9v-2.35M271.26,322.5v2.35M277.91,556.9v-2.35M277.91,322.5v2.35M284.56,556.9v-2.35M284.56,322.5v2.35M291.20,556.9v-4.7M291.20,322.5v4.7M297.85,556.9v-2.35M297.85,322.5v2.35M304.50,556.9v-2.35M304.50,322.5v2.35M311.14,556.9v-2.35M311.14,322.5v2.35M317.79,556.9v-2.35M317.79,322.5v2.35M324.44,556.9v-2.35M324.44,322.5v2.35M331.09,556.9v-2.35M331.09,322.5v2.35M337.73,556.9v-2.35M337.73,322.5v2.35M344.38,556.9v-2.35M344.38,322.5v2.35M351.03,556.9v-2.35M351.03,322.5v2.35M357.67,556.9v-4.7M357.67,322.5v4.7M364.32,556.9v-2.35M364.32,322.5v2.35M370.97,556.9v-2.35M370.97,322.5v2.35M377.62,556.9v-2.35M377.62,322.5v2.35M384.26,556.9v-2.35M384.26,322.5v2.35M390.91,556.9v-2.35M390.91,322.5v2.35M78.5,556.90h6.3M390.9,556.90h-6.3M78.5,539.07h3.15M390.9,539.07h-3.15M78.5,528.64h3.15M390.9,528.64h-3.15M78.5,521.24h3.15M390.9,521.24h-3.15M78.5,515.50h3.15M390.9,515.50h-3.15M78.5,510.81h3.15M390.9,510.81h-3.15M78.5,506.84h3.15M390.9,506.84h-3.15M78.5,503.41h3.15M390.9,503.41h-3.15M78.5,500.38h3.15M390.9,500.38h-3.15M78.5,497.67h6.3M390.9,497.67h-6.3M78.5,479.84h3.15M390.9,479.84h-3.15M78.5,469.41h3.15M390.9,469.41h-3.15M78.5,462.01h3.15M390.9,462.01h-3.15M78.5,456.27h3.15M390.9,456.27h-3.15M78.5,451.58h3.15M390.9,451.58h-3.15M78.5,447.61h3.15M390.9,447.61h-3.15M78.5,444.18h3.15M390.9,444.18h-3.15M78.5,441.15h3.15M390.9,441.15h-3.15M78.5,438.44h6.3M390.9,438.44h-6.3M78.5,420.61h3.15M390.9,420.61h-3.15M78.5,410.18h3.15M390.9,410.18h-3.15M78.5,402.78h3.15M390.9,402.78h-3.15M78.5,397.04h3.15M390.9,397.04h-3.15M78.5,392.35h3.15M390.9,392.35h-3.15M78.5,388.38h3.15M390.9,388.38h-3.15M78.5,384.95h3.15M390.9,384.95h-3.15M78.5,381.92h3.15M390.9,381.92h-3.15M78.5,379.21h6.3M390.9,379.21h-6.3M78.5,361.38h3.15M390.9,361.38h-3.15M78.5,350.95h3.15M390.9,350.95h-3.15M78.5,343.55h3.15M390.9,343.55h-3.15M78.5,337.81h3.15M390.9,337.81h-3.15M78.5,333.12h3.15M390.9,333.12h-3.15M78.5,329.15h3.15M390.9,329.15h-3.15M78.5,325.72h3.15M390.9,325.72h-3.15M78.5,322.69h3.15M390.9,322.69h-3.15M390.9,322.5H703.3V556.9H390.9ZM397.55,556.9v-2.35M397.55,322.5v2.35M404.19,556.9v-4.7M404.19,322.5v4.7M410.84,556.9v-2.35M410.84,322.5v2.35M417.49,556.9v-2.35M417.49,322.5v2.35M424.13,556.9v-2.35M424.13,322.5v2.35M430.78,556.9v-2.35M430.78,322.5v2.35M437.43,556.9v-2.35M437.43,322.5v2.35M444.08,556.9v-2.35M444.08,322.5v2.35M450.72,556.9v-2.35M450.72,322.5v2.35M457.37,556.9v-2.35M457.37,322.5v2.35M464.02,556.9v-2.35M464.02,322.5v2.35M470.66,556.9v-4.7M470.66,322.5v4.7M477.31,556.9v-2.35M477.31,322.5v2.35M483.96,556.9v-2.35M483.96,322.5v2.35M490.60,556.9v-2.35M490.60,322.5v2.35M497.25,556.9v-2.35M497.25,322.5v2.35M503.90,556.9v-2.35M503.90,322.5v2.35M510.55,556.9v-2.35M510.55,322.5v2.35M517.19,556.9v-2.35M517.19,322.5v2.35M523.84,556.9v-2.35M523.84,322.5v2.35M530.49,556.9v-2.35M530.49,322.5v2.35M537.13,556.9v-4.7M537.13,322.5v4.7M543.78,556.9v-2.35M543.78,322.5v2.35M550.43,556.9v-2.35M550.43,322.5v2.35M557.08,556.9v-2.35M557.08,322.5v2.35M563.72,556.9v-2.35M563.72,322.5v2.35M570.37,556.9v-2.35M570.37,322.5v2.35M577.02,556.9v-2.35M577.02,322.5v2.35M583.66,556.9v-2.35M583.66,322.5v2.35M590.31,556.9v-2.35M590.31,322.5v2.35M596.96,556.9v-2.35M596.96,322.5v2.35M603.60,556.9v-4.7M603.60,322.5v4.7M610.25,556.9v-2.35M610.25,322.5v2.35M616.90,556.9v-2.35M616.90,322.5v2.35M623.54,556.9v-2.35M623.54,322.5v2.35M630.19,556.9v-2.35M630.19,322.5v2.35M636.84,556.9v-2.35M636.84,322.5v2.35M643.49,556.9v-2.35M643.49,322.5v2.35M650.13,556.9v-2.35M650.13,322.5v2.35M656.78,556.9v-2.35M656.78,322.5v2.35M663.43,556.9v-2.35M663.43,322.5v2.35M670.07,556.9v-4.7M670.07,322.5v4.7M676.72,556.9v-2.35M676.72,322.5v2.35M683.37,556.9v-2.35M683.37,322.5v2.35M690.01,556.9v-2.35M690.01,322.5v2.35M696.66,556.9v-2.35M696.66,322.5v2.35M703.31,556.9v-2.35M703.31,322.5v2.35M390.9,556.90h6.3M703.3,556.90h-6.3M390.9,539.07h3.15M703.3,539.07h-3.15M390.9,528.64h3.15M703.3,528.64h-3.15M390.9,521.24h3.15M703.3,521.24h-3.15M390.9,515.50h3.15M703.3,515.50h-3.15M390.9,510.81h3.15M703.3,510.81h-3.15M390.9,506.84h3.15M703.3,506.84h-3.15M390.9,503.41h3.15M703.3,503.41h-3.15M390.9,500.38h3.15M703.3,500.38h-3.15M390.9,497.67h6.3M703.3,497.67h-6.3M390.9,479.84h3.15M703.3,479.84h-3.15M390.9,469.41h3.15M703.3,469.41h-3.15M390.9,462.01h3.15M703.3,462.01h-3.15M390.9,456.27h3.15M703.3,456.27h-3.15M390.9,451.58h3.15M703.3,451.58h-3.15M390.9,447.61h3.15M703.3,447.61h-3.15M390.9,444.18h3.15M703.3,444.18h-3.15M390.9,441.15h3.15M703.3,441.15h-3.15M390.9,438.44h6.3M703.3,438.44h-6.3M390.9,420.61h3.15M703.3,420.61h-3.15M390.9,410.18h3.15M703.3,410.18h-3.15M390.9,402.78h3.15M703.3,402.78h-3.15M390.9,397.04h3.15M703.3,397.04h-3.15M390.9,392.35h3.15M703.3,392.35h-3.15M390.9,388.38h3.15M703.3,388.38h-3.15M390.9,384.95h3.15M703.3,384.95h-3.15M390.9,381.92h3.15M703.3,381.92h-3.15M390.9,379.21h6.3M703.3,379.21h-6.3M390.9,361.38h3.15M703.3,361.38h-3.15M390.9,350.95h3.15M703.3,350.95h-3.15M390.9,343.55h3.15M703.3,343.55h-3.15M390.9,337.81h3.15M703.3,337.81h-3.15M390.9,333.12h3.15M703.3,333.12h-3.15M390.9,329.15h3.15M703.3,329.15h-3.15M390.9,325.72h3.15M703.3,325.72h-3.15M390.9,322.69h3.15M703.3,322.69h-3.15M78.5,556.9H390.9V791.2H78.5ZM85.15,791.2v-2.35M85.15,556.9v2.35M91.79,791.2v-4.7M91.79,556.9v4.7M98.44,791.2v-2.35M98.44,556.9v2.35M105.09,791.2v-2.35M105.09,556.9v2.35M111.73,791.2v-2.35M111.73,556.9v2.35M118.38,791.2v-2.35M118.38,556.9v2.35M125.03,791.2v-2.35M125.03,556.9v2.35M131.68,791.2v-2.35M131.68,556.9v2.35M138.32,791.2v-2.35M138.32,556.9v2.35M144.97,791.2v-2.35M144.97,556.9v2.35M151.62,791.2v-2.35M151.62,556.9v2.35M158.26,791.2v-4.7M158.26,556.9v4.7M164.91,791.2v-2.35M164.91,556.9v2.35M171.56,791.2v-2.35M171.56,556.9v2.35M178.20,791.2v-2.35M178.20,556.9v2.35M184.85,791.2v-2.35M184.85,556.9v2.35M191.50,791.2v-2.35M191.50,556.9v2.35M198.15,791.2v-2.35M198.15,556.9v2.35M204.79,791.2v-2.35M204.79,556.9v2.35M211.44,791.2v-2.35M211.44,556.9v2.35M218.09,791.2v-2.35M218.09,556.9v2.35M224.73,791.2v-4.7M224.73,556.9v4.7M231.38,791.2v-2.35M231.38,556.9v2.35M238.03,791.2v-2.35M238.03,556.9v2.35M244.68,791.2v-2.35M244.68,556.9v2.35M251.32,791.2v-2.35M251.32,556.9v2.35M257.97,791.2v-2.35M257.97,556.9v2.35M264.62,791.2v-2.35M264.62,556.9v2.35M271.26,791.2v-2.35M271.26,556.9v2.35M277.91,791.2v-2.35M277.91,556.9v2.35M284.56,791.2v-2.35M284.56,556.9v2.35M291.20,791.2v-4.7M291.20,556.9v4.7M297.85,791.2v-2.35M297.85,556.9v2.35M304.50,791.2v-2.35M304.50,556.9v2.35M311.14,791.2v-2.35M311.14,556.9v2.35M317.79,791.2v-2.35M317.79,556.9v2.35M324.44,791.2v-2.35M324.44,556.9v2.35M331.09,791.2v-2.35M331.09,556.9v2.35M337.73,791.2v-2.35M337.73,556.9v2.35M344.38,791.2v-2.35M344.38,556.9v2.35M351.03,791.2v-2.35M351.03,556.9v2.35M357.67,791.2v-4.7M357.67,556.9v4.7M364.32,791.2v-2.35M364.32,556.9v2.35M370.97,791.2v-2.35M370.97,556.9v2.35M377.62,791.2v-2.35M377.62,556.9v2.35M384.26,791.2v-2.35M384.26,556.9v2.35M390.91,791.2v-2.35M390.91,556.9v2.35M78.5,791.20h6.3M390.9,791.20h-6.3M78.5,773.37h3.15M390.9,773.37h-3.15M78.5,762.94h3.15M390.9,762.94h-3.15M78.5,755.54h3.15M390.9,755.54h-3.15M78.5,749.80h3.15M390.9,749.80h-3.15M78.5,745.11h3.15M390.9,745.11h-3.15M78.5,741.14h3.15M390.9,741.14h-3.15M78.5,737.71h3.15M390.9,737.71h-3.15M78.5,734.68h3.15M390.9,734.68h-3.15M78.5,731.97h6.3M390.9,731.97h-6.3M78.5,714.14h3.15M390.9,714.14h-3.15M78.5,703.71h3.15M390.9,703.71h-3.15M78.5,696.31h3.15M390.9,696.31h-3.15M78.5,690.57h3.15M390.9,690.57h-3.15M78.5,685.88h3.15M390.9,685.88h-3.15M78.5,681.91h3.15M390.9,681.91h-3.15M78.5,678.48h3.15M390.9,678.48h-3.15M78.5,675.45h3.15M390.9,675.45h-3.15M78.5,672.74h6.3M390.9,672.74h-6.3M78.5,654.91h3.15M390.9,654.91h-3.15M78.5,644.48h3.15M390.9,644.48h-3.15M78.5,637.08h3.15M390.9,637.08h-3.15M78.5,631.34h3.15M390.9,631.34h-3.15M78.5,626.65h3.15M390.9,626.65h-3.15M78.5,622.68h3.15M390.9,622.68h-3.15M78.5,619.25h3.15M390.9,619.25h-3.15M78.5,616.22h3.15M390.9,616.22h-3.15M78.5,613.51h6.3M390.9,613.51h-6.3M78.5,595.68h3.15M390.9,595.68h-3.15M78.5,585.25h3.15M390.9,585.25h-3.15M78.5,577.85h3.15M390.9,577.85h-3.15M78.5,572.11h3.15M390.9,572.11h-3.15M78.5,567.42h3.15M390.9,567.42h-3.15M78.5,563.45h3.15M390.9,563.45h-3.15M78.5,560.02h3.15M390.9,560.02h-3.15M78.5,556.99h3.15M390.9,556.99h-3.15M390.9,556.9H703.3V791.2H390.9ZM397.55,791.2v-2.35M397.55,556.9v2.35M404.19,791.2v-4.7M404.19,556.9v4.7M410.84,791.2v-2.35M410.84,556.9v2.35M417.49,791.2v-2.35M417.49,556.9v2.35M424.13,791.2v-2.35M424.13,556.9v2.35M430.78,791.2v-2.35M430.78,556.9v2.35M437.43,791.2v-2.35M437.43,556.9v2.35M444.08,791.2v-2.35M444.08,556.9v2.35M450.72,791.2v-2.35M450.72,556.9v2.35M457.37,791.2v-2.35M457.37,556.9v2.35M464.02,791.2v-2.35M464.02,556.9v2.35M470.66,791.2v-4.7M470.66,556.9v4.7M477.31,791.2v-2.35M477.31,556.9v2.35M483.96,791.2v-2.35M483.96,556.9v2.35M490.60,791.2v-2.35M490.60,556.9v2.35M497.25,791.2v-2.35M497.25,556.9v2.35M503.90,791.2v-2.35M503.90,556.9v2.35M510.55,791.2v-2.35M510.55,556.9v2.35M517.19,791.2v-2.35M517.19,556.9v2.35M523.84,791.2v-2.35M523.84,556.9v2.35M530.49,791.2v-2.35M530.49,556.9v2.35M537.13,791.2v-4.7M537.13,556.9v4.7M543.78,791.2v-2.35M543.78,556.9v2.35M550.43,791.2v-2.35M550.43,556.9v2.35M557.08,791.2v-2.35M557.08,556.9v2.35M563.72,791.2v-2.35M563.72,556.9v2.35M570.37,791.2v-2.35M570.37,556.9v2.35M577.02,791.2v-2.35M577.02,556.9v2.35M583.66,791.2v-2.35M583.66,556.9v2.35M590.31,791.2v-2.35M590.31,556.9v2.35M596.96,791.2v-2.35M596.96,556.9v2.35M603.60,791.2v-4.7M603.60,556.9v4.7M610.25,791.2v-2.35M610.25,556.9v2.35M616.90,791.2v-2.35M616.90,556.9v2.35M623.54,791.2v-2.35M623.54,556.9v2.35M630.19,791.2v-2.35M630.19,556.9v2.35M636.84,791.2v-2.35M636.84,556.9v2.35M643.49,791.2v-2.35M643.49,556.9v2.35M650.13,791.2v-2.35M650.13,556.9v2.35M656.78,791.2v-2.35M656.78,556.9v2.35M663.43,791.2v-2.35M663.43,556.9v2.35M670.07,791.2v-4.7M670.07,556.9v4.7M676.72,791.2v-2.35M676.72,556.9v2.35M683.37,791.2v-2.35M683.37,556.9v2.35M690.01,791.2v-2.35M690.01,556.9v2.35M696.66,791.2v-2.35M696.66,556.9v2.35M703.31,791.2v-2.35M703.31,556.9v2.35M390.9,791.20h6.3M703.3,791.20h-6.3M390.9,773.37h3.15M703.3,773.37h-3.15M390.9,762.94h3.15M703.3,762.94h-3.15M390.9,755.54h3.15M703.3,755.54h-3.15M390.9,749.80h3.15M703.3,749.80h-3.15M390.9,745.11h3.15M703.3,745.11h-3.15M390.9,741.14h3.15M703.3,741.14h-3.15M390.9,737.71h3.15M703.3,737.71h-3.15M390.9,734.68h3.15M703.3,734.68h-3.15M390.9,731.97h6.3M703.3,731.97h-6.3M390.9,714.14h3.15M703.3,714.14h-3.15M390.9,703.71h3.15M703.3,703.71h-3.15M390.9,696.31h3.15M703.3,696.31h-3.15M390.9,690.57h3.15M703.3,690.57h-3.15M390.9,685.88h3.15M703.3,685.88h-3.15M390.9,681.91h3.15M703.3,681.91h-3.15M390.9,678.48h3.15M703.3,678.48h-3.15M390.9,675.45h3.15M703.3,675.45h-3.15M390.9,672.74h6.3M703.3,672.74h-6.3M390.9,654.91h3.15M703.3,654.91h-3.15M390.9,644.48h3.15M703.3,644.48h-3.15M390.9,637.08h3.15M703.3,637.08h-3.15M390.9,631.34h3.15M703.3,631.34h-3.15M390.9,626.65h3.15M703.3,626.65h-3.15M390.9,622.68h3.15M703.3,622.68h-3.15M390.9,619.25h3.15M703.3,619.25h-3.15M390.9,616.22h3.15M703.3,616.22h-3.15M390.9,613.51h6.3M703.3,613.51h-6.3M390.9,595.68h3.15M703.3,595.68h-3.15M390.9,585.25h3.15M703.3,585.25h-3.15M390.9,577.85h3.15M703.3,577.85h-3.15M390.9,572.11h3.15M703.3,572.11h-3.15M390.9,567.42h3.15M703.3,567.42h-3.15M390.9,563.45h3.15M703.3,563.45h-3.15M390.9,560.02h3.15M703.3,560.02h-3.15M390.9,556.99h3.15M703.3,556.99h-3.15" fill="none" stroke="#000" stroke-width="2.0" stroke-linecap="butt" stroke-linejoin="miter"/>
<text x="290.6" y="116.9" font-size="13.8" text-anchor="start" fill="#000" stroke="#000" stroke-width="0.71" stroke-linejoin="round" font-family="Liberation Sans, sans-serif" textLength="82.5" lengthAdjust="spacingAndGlyphs">0.05&lt;z&lt;0.15</text>
<text x="603.0" y="116.9" font-size="13.8" text-anchor="start" fill="#000" stroke="#000" stroke-width="0.71" stroke-linejoin="round" font-family="Liberation Sans, sans-serif" textLength="82.5" lengthAdjust="spacingAndGlyphs">0.15&lt;z&lt;0.25</text>
<text x="290.6" y="351.20000000000005" font-size="13.8" text-anchor="start" fill="#000" stroke="#000" stroke-width="0.71" stroke-linejoin="round" font-family="Liberation Sans, sans-serif" textLength="82.5" lengthAdjust="spacingAndGlyphs">0.25&lt;z&lt;0.35</text>
<text x="603.0" y="351.20000000000005" font-size="13.8" text-anchor="start" fill="#000" stroke="#000" stroke-width="0.71" stroke-linejoin="round" font-family="Liberation Sans, sans-serif" textLength="82.5" lengthAdjust="spacingAndGlyphs">0.35&lt;z&lt;0.45</text>
<text x="290.6" y="585.5" font-size="13.8" text-anchor="start" fill="#000" stroke="#000" stroke-width="0.71" stroke-linejoin="round" font-family="Liberation Sans, sans-serif" textLength="82.5" lengthAdjust="spacingAndGlyphs">0.45&lt;z&lt;0.55</text>
<text x="603.0" y="585.5" font-size="13.8" text-anchor="start" fill="#000" stroke="#000" stroke-width="0.71" stroke-linejoin="round" font-family="Liberation Sans, sans-serif" textLength="82.5" lengthAdjust="spacingAndGlyphs">0.55&lt;z&lt;0.75</text>
<text x="81.29399999999995" y="807.0" font-size="11" text-anchor="start" fill="#000" stroke="#000" stroke-width="0.96" stroke-linejoin="round" font-family="Liberation Sans, sans-serif" textLength="21" lengthAdjust="spacingAndGlyphs">−18</text>
<text x="147.76399999999995" y="807.0" font-size="11" text-anchor="start" fill="#000" stroke="#000" stroke-width="0.96" stroke-linejoin="round" font-family="Liberation Sans, sans-serif" textLength="21" lengthAdjust="spacingAndGlyphs">−19</text>
<text x="214.23399999999995" y="807.0" font-size="11" text-anchor="start" fill="#000" stroke="#000" stroke-width="0.96" stroke-linejoin="round" font-family="Liberation Sans, sans-serif" textLength="21" lengthAdjust="spacingAndGlyphs">−20</text>
<text x="280.70399999999995" y="807.0" font-size="11" text-anchor="start" fill="#000" stroke="#000" stroke-width="0.96" stroke-linejoin="round" font-family="Liberation Sans, sans-serif" textLength="21" lengthAdjust="spacingAndGlyphs">−21</text>
<text x="347.1739999999999" y="807.0" font-size="11" text-anchor="start" fill="#000" stroke="#000" stroke-width="0.96" stroke-linejoin="round" font-family="Liberation Sans, sans-serif" textLength="21" lengthAdjust="spacingAndGlyphs">−22</text>
<text x="393.6939999999999" y="807.0" font-size="11" text-anchor="start" fill="#000" stroke="#000" stroke-width="0.96" stroke-linejoin="round" font-family="Liberation Sans, sans-serif" textLength="21" lengthAdjust="spacingAndGlyphs">−18</text>
<text x="460.16399999999993" y="807.0" font-size="11" text-anchor="start" fill="#000" stroke="#000" stroke-width="0.96" stroke-linejoin="round" font-family="Liberation Sans, sans-serif" textLength="21" lengthAdjust="spacingAndGlyphs">−19</text>
<text x="526.6339999999999" y="807.0" font-size="11" text-anchor="start" fill="#000" stroke="#000" stroke-width="0.96" stroke-linejoin="round" font-family="Liberation Sans, sans-serif" textLength="21" lengthAdjust="spacingAndGlyphs">−20</text>
<text x="593.1039999999999" y="807.0" font-size="11" text-anchor="start" fill="#000" stroke="#000" stroke-width="0.96" stroke-linejoin="round" font-family="Liberation Sans, sans-serif" textLength="21" lengthAdjust="spacingAndGlyphs">−21</text>
<text x="659.5739999999998" y="807.0" font-size="11" text-anchor="start" fill="#000" stroke="#000" stroke-width="0.96" stroke-linejoin="round" font-family="Liberation Sans, sans-serif" textLength="21" lengthAdjust="spacingAndGlyphs">−22</text>
<text x="53.2" y="149.11" font-size="10.6" text-anchor="start" fill="#000" stroke="#000" stroke-width="1.0" stroke-linejoin="round" font-family="Liberation Sans, sans-serif" textLength="11.8" lengthAdjust="spacingAndGlyphs">10</text>
<text x="66.6" y="143.91" font-size="7.4" text-anchor="start" fill="#000" stroke="#000" stroke-width="1.28" stroke-linejoin="round" font-family="Liberation Sans, sans-serif" textLength="8.0" lengthAdjust="spacingAndGlyphs">−2</text>
<text x="53.2" y="208.34000000000003" font-size="10.6" text-anchor="start" fill="#000" stroke="#000" stroke-width="1.0" stroke-linejoin="round" font-family="Liberation Sans, sans-serif" textLength="11.8" lengthAdjust="spacingAndGlyphs">10</text>
<text x="66.6" y="203.14000000000001" font-size="7.4" text-anchor="start" fill="#000" stroke="#000" stroke-width="1.28" stroke-linejoin="round" font-family="Liberation Sans, sans-serif" textLength="8.0" lengthAdjust="spacingAndGlyphs">−3</text>
<text x="53.2" y="267.57" font-size="10.6" text-anchor="start" fill="#000" stroke="#000" stroke-width="1.0" stroke-linejoin="round" font-family="Liberation Sans, sans-serif" textLength="11.8" lengthAdjust="spacingAndGlyphs">10</text>
<text x="66.6" y="262.37" font-size="7.4" text-anchor="start" fill="#000" stroke="#000" stroke-width="1.28" stroke-linejoin="round" font-family="Liberation Sans, sans-serif" textLength="8.0" lengthAdjust="spacingAndGlyphs">−4</text>
<text x="53.2" y="326.8" font-size="10.6" text-anchor="start" fill="#000" stroke="#000" stroke-width="1.0" stroke-linejoin="round" font-family="Liberation Sans, sans-serif" textLength="11.8" lengthAdjust="spacingAndGlyphs">10</text>
<text x="66.6" y="321.6" font-size="7.4" text-anchor="start" fill="#000" stroke="#000" stroke-width="1.28" stroke-linejoin="round" font-family="Liberation Sans, sans-serif" textLength="8.0" lengthAdjust="spacingAndGlyphs">−5</text>
<text x="53.2" y="383.51" font-size="10.6" text-anchor="start" fill="#000" stroke="#000" stroke-width="1.0" stroke-linejoin="round" font-family="Liberation Sans, sans-serif" textLength="11.8" lengthAdjust="spacingAndGlyphs">10</text>
<text x="66.6" y="378.31" font-size="7.4" text-anchor="start" fill="#000" stroke="#000" stroke-width="1.28" stroke-linejoin="round" font-family="Liberation Sans, sans-serif" textLength="8.0" lengthAdjust="spacingAndGlyphs">−2</text>
<text x="53.2" y="442.74" font-size="10.6" text-anchor="start" fill="#000" stroke="#000" stroke-width="1.0" stroke-linejoin="round" font-family="Liberation Sans, sans-serif" textLength="11.8" lengthAdjust="spacingAndGlyphs">10</text>
<text x="66.6" y="437.54" font-size="7.4" text-anchor="start" fill="#000" stroke="#000" stroke-width="1.28" stroke-linejoin="round" font-family="Liberation Sans, sans-serif" textLength="8.0" lengthAdjust="spacingAndGlyphs">−3</text>
<text x="53.2" y="501.96999999999997" font-size="10.6" text-anchor="start" fill="#000" stroke="#000" stroke-width="1.0" stroke-linejoin="round" font-family="Liberation Sans, sans-serif" textLength="11.8" lengthAdjust="spacingAndGlyphs">10</text>
<text x="66.6" y="496.77" font-size="7.4" text-anchor="start" fill="#000" stroke="#000" stroke-width="1.28" stroke-linejoin="round" font-family="Liberation Sans, sans-serif" textLength="8.0" lengthAdjust="spacingAndGlyphs">−4</text>
<text x="53.2" y="561.1999999999999" font-size="10.6" text-anchor="start" fill="#000" stroke="#000" stroke-width="1.0" stroke-linejoin="round" font-family="Liberation Sans, sans-serif" textLength="11.8" lengthAdjust="spacingAndGlyphs">10</text>
<text x="66.6" y="556.0" font-size="7.4" text-anchor="start" fill="#000" stroke="#000" stroke-width="1.28" stroke-linejoin="round" font-family="Liberation Sans, sans-serif" textLength="8.0" lengthAdjust="spacingAndGlyphs">−5</text>
<text x="53.2" y="617.81" font-size="10.6" text-anchor="start" fill="#000" stroke="#000" stroke-width="1.0" stroke-linejoin="round" font-family="Liberation Sans, sans-serif" textLength="11.8" lengthAdjust="spacingAndGlyphs">10</text>
<text x="66.6" y="612.61" font-size="7.4" text-anchor="start" fill="#000" stroke="#000" stroke-width="1.28" stroke-linejoin="round" font-family="Liberation Sans, sans-serif" textLength="8.0" lengthAdjust="spacingAndGlyphs">−2</text>
<text x="53.2" y="677.04" font-size="10.6" text-anchor="start" fill="#000" stroke="#000" stroke-width="1.0" stroke-linejoin="round" font-family="Liberation Sans, sans-serif" textLength="11.8" lengthAdjust="spacingAndGlyphs">10</text>
<text x="66.6" y="671.84" font-size="7.4" text-anchor="start" fill="#000" stroke="#000" stroke-width="1.28" stroke-linejoin="round" font-family="Liberation Sans, sans-serif" textLength="8.0" lengthAdjust="spacingAndGlyphs">−3</text>
<text x="53.2" y="736.27" font-size="10.6" text-anchor="start" fill="#000" stroke="#000" stroke-width="1.0" stroke-linejoin="round" font-family="Liberation Sans, sans-serif" textLength="11.8" lengthAdjust="spacingAndGlyphs">10</text>
<text x="66.6" y="731.07" font-size="7.4" text-anchor="start" fill="#000" stroke="#000" stroke-width="1.28" stroke-linejoin="round" font-family="Liberation Sans, sans-serif" textLength="8.0" lengthAdjust="spacingAndGlyphs">−4</text>
<text x="53.2" y="795.5" font-size="10.6" text-anchor="start" fill="#000" stroke="#000" stroke-width="1.0" stroke-linejoin="round" font-family="Liberation Sans, sans-serif" textLength="11.8" lengthAdjust="spacingAndGlyphs">10</text>
<text x="66.6" y="790.3000000000001" font-size="7.4" text-anchor="start" fill="#000" stroke="#000" stroke-width="1.28" stroke-linejoin="round" font-family="Liberation Sans, sans-serif" textLength="8.0" lengthAdjust="spacingAndGlyphs">−5</text>
<text x="192.3" y="820.3" font-size="9.6" text-anchor="start" fill="#000" stroke="#000" stroke-width="1.09" stroke-linejoin="round" font-family="Liberation Sans, sans-serif" textLength="7.2" lengthAdjust="spacingAndGlyphs">M</text>
<text x="200.2" y="823.2" font-size="6.5" text-anchor="start" fill="#000" stroke="#000" stroke-width="1.36" stroke-linejoin="round" font-family="Liberation Sans, sans-serif" textLength="4.7" lengthAdjust="spacingAndGlyphs">B</text>
<text x="211.1" y="820.3" font-size="9.6" text-anchor="start" fill="#000" stroke="#000" stroke-width="1.09" stroke-linejoin="round" font-family="Liberation Sans, sans-serif" textLength="6.8" lengthAdjust="spacingAndGlyphs">−</text>
<text x="224.5" y="820.3" font-size="9.6" text-anchor="start" fill="#000" stroke="#000" stroke-width="1.09" stroke-linejoin="round" font-family="Liberation Sans, sans-serif" textLength="6.4" lengthAdjust="spacingAndGlyphs">5</text>
<text x="237.1" y="820.3" font-size="9.6" text-anchor="start" fill="#000" stroke="#000" stroke-width="1.09" stroke-linejoin="round" font-family="Liberation Sans, sans-serif" textLength="14.5" lengthAdjust="spacingAndGlyphs">log</text>
<text x="257.3" y="820.3" font-size="9.6" text-anchor="start" fill="#000" stroke="#000" stroke-width="1.09" stroke-linejoin="round" font-family="Liberation Sans, sans-serif" textLength="6.6" lengthAdjust="spacingAndGlyphs">h</text>
<text x="264.6" y="823.2" font-size="6.5" text-anchor="start" fill="#000" stroke="#000" stroke-width="1.36" stroke-linejoin="round" font-family="Liberation Sans, sans-serif" textLength="11.5" lengthAdjust="spacingAndGlyphs">100</text>
<text x="504.7" y="820.3" font-size="9.6" text-anchor="start" fill="#000" stroke="#000" stroke-width="1.09" stroke-linejoin="round" font-family="Liberation Sans, sans-serif" textLength="7.2" lengthAdjust="spacingAndGlyphs">M</text>
<text x="512.5999999999999" y="823.2" font-size="6.5" text-anchor="start" fill="#000" stroke="#000" stroke-width="1.36" stroke-linejoin="round" font-family="Liberation Sans, sans-serif" textLength="4.7" lengthAdjust="spacingAndGlyphs">B</text>
<text x="523.5" y="820.3" font-size="9.6" text-anchor="start" fill="#000" stroke="#000" stroke-width="1.09" stroke-linejoin="round" font-family="Liberation Sans, sans-serif" textLength="6.8" lengthAdjust="spacingAndGlyphs">−</text>
<text x="536.9" y="820.3" font-size="9.6" text-anchor="start" fill="#000" stroke="#000" stroke-width="1.09" stroke-linejoin="round" font-family="Liberation Sans, sans-serif" textLength="6.4" lengthAdjust="spacingAndGlyphs">5</text>
<text x="549.5" y="820.3" font-size="9.6" text-anchor="start" fill="#000" stroke="#000" stroke-width="1.09" stroke-linejoin="round" font-family="Liberation Sans, sans-serif" textLength="14.5" lengthAdjust="spacingAndGlyphs">log</text>
<text x="569.7" y="820.3" font-size="9.6" text-anchor="start" fill="#000" stroke="#000" stroke-width="1.09" stroke-linejoin="round" font-family="Liberation Sans, sans-serif" textLength="6.6" lengthAdjust="spacingAndGlyphs">h</text>
<text x="577.0" y="823.2" font-size="6.5" text-anchor="start" fill="#000" stroke="#000" stroke-width="1.36" stroke-linejoin="round" font-family="Liberation Sans, sans-serif" textLength="11.5" lengthAdjust="spacingAndGlyphs">100</text>
<g transform="translate(42.8,497) rotate(-90)">
<circle cx="3.6" cy="-4.2" r="2.3" fill="none" stroke="#000" stroke-width="2.3"/><path d="M3.6,0.4V-8.8" stroke="#000" stroke-width="1.9"/>
<text x="13.2" y="1.2" font-size="11.5" text-anchor="start" fill="#000" stroke="#000" stroke-width="0.92" stroke-linejoin="round" font-family="Liberation Sans, sans-serif" textLength="4.8" lengthAdjust="spacingAndGlyphs">(</text>
<text x="18.9" y="0" font-size="9.6" text-anchor="start" fill="#000" stroke="#000" stroke-width="1.09" stroke-linejoin="round" font-family="Liberation Sans, sans-serif" textLength="5.2" lengthAdjust="spacingAndGlyphs">h</text>
<text x="24.7" y="-5.2" font-size="6.5" text-anchor="start" fill="#000" stroke="#000" stroke-width="1.36" stroke-linejoin="round" font-family="Liberation Sans, sans-serif" textLength="4.0" lengthAdjust="spacingAndGlyphs">3</text>
<text x="24.7" y="2.5" font-size="6.5" text-anchor="start" fill="#000" stroke="#000" stroke-width="1.36" stroke-linejoin="round" font-family="Liberation Sans, sans-serif" textLength="11.1" lengthAdjust="spacingAndGlyphs">100</text>
<text x="43.6" y="0" font-size="9.6" text-anchor="start" fill="#000" stroke="#000" stroke-width="1.09" stroke-linejoin="round" font-family="Liberation Sans, sans-serif" textLength="19.6" lengthAdjust="spacingAndGlyphs">Mpc</text>
<text x="65.8" y="-5.2" font-size="6.5" text-anchor="start" fill="#000" stroke="#000" stroke-width="1.36" stroke-linejoin="round" font-family="Liberation Sans, sans-serif" textLength="3.6" lengthAdjust="spacingAndGlyphs">-</text>
<text x="70.0" y="-5.2" font-size="6.5" text-anchor="start" fill="#000" stroke="#000" stroke-width="1.36" stroke-linejoin="round" font-family="Liberation Sans, sans-serif" textLength="4.2" lengthAdjust="spacingAndGlyphs">3</text>
<text x="78.8" y="0" font-size="9.6" text-anchor="start" fill="#000" stroke="#000" stroke-width="1.09" stroke-linejoin="round" font-family="Liberation Sans, sans-serif" textLength="18.2" lengthAdjust="spacingAndGlyphs">Mag</text>
<text x="99.6" y="-5.2" font-size="6.5" text-anchor="start" fill="#000" stroke="#000" stroke-width="1.36" stroke-linejoin="round" font-family="Liberation Sans, sans-serif" textLength="3.6" lengthAdjust="spacingAndGlyphs">-</text>
<text x="104.4" y="-5.2" font-size="6.5" text-anchor="start" fill="#000" stroke="#000" stroke-width="1.36" stroke-linejoin="round" font-family="Liberation Sans, sans-serif" textLength="3.4" lengthAdjust="spacingAndGlyphs">1</text>
<text x="108.6" y="1.2" font-size="11.5" text-anchor="start" fill="#000" stroke="#000" stroke-width="0.92" stroke-linejoin="round" font-family="Liberation Sans, sans-serif" textLength="4.8" lengthAdjust="spacingAndGlyphs">)</text>
</g>
<path d="M84.8,242.2H108" fill="none" stroke="#ff0000" stroke-width="2.3" stroke-dasharray="8.5 6.9"/>
<text x="118.1" y="246.1" font-size="12.7" text-anchor="start" fill="#ff0000" stroke="#ff0000" stroke-width="0.81" stroke-linejoin="round" font-family="Liberation Sans, sans-serif" textLength="48.8" lengthAdjust="spacingAndGlyphs">Norberg</text>
<text x="173.6" y="246.1" font-size="12.7" text-anchor="start" fill="#ff0000" stroke="#ff0000" stroke-width="0.81" stroke-linejoin="round" font-family="Liberation Sans, sans-serif" textLength="11.4" lengthAdjust="spacingAndGlyphs">et</text>
<text x="192.2" y="246.1" font-size="12.7" text-anchor="start" fill="#ff0000" stroke="#ff0000" stroke-width="0.81" stroke-linejoin="round" font-family="Liberation Sans, sans-serif" textLength="13.6" lengthAdjust="spacingAndGlyphs">al.</text>
<text x="213.9" y="246.1" font-size="12.7" text-anchor="start" fill="#ff0000" stroke="#ff0000" stroke-width="0.81" stroke-linejoin="round" font-family="Liberation Sans, sans-serif" textLength="31.3" lengthAdjust="spacingAndGlyphs">2002</text>
<path d="M84.8,260.0H110.5" fill="none" stroke="#008000" stroke-width="2.3" stroke-dasharray="8.2 3.3 1.7 3.3"/>
<text x="118.1" y="263.6" font-size="12.7" text-anchor="start" fill="#008000" stroke="#008000" stroke-width="0.81" stroke-linejoin="round" font-family="Liberation Sans, sans-serif" textLength="57.9" lengthAdjust="spacingAndGlyphs">Madgwick</text>
<text x="183.2" y="263.6" font-size="12.7" text-anchor="start" fill="#008000" stroke="#008000" stroke-width="0.81" stroke-linejoin="round" font-family="Liberation Sans, sans-serif" textLength="11.4" lengthAdjust="spacingAndGlyphs">et</text>
<text x="201.8" y="263.6" font-size="12.7" text-anchor="start" fill="#008000" stroke="#008000" stroke-width="0.81" stroke-linejoin="round" font-family="Liberation Sans, sans-serif" textLength="13.6" lengthAdjust="spacingAndGlyphs">al.</text>
<text x="223.5" y="263.6" font-size="12.7" text-anchor="start" fill="#008000" stroke="#008000" stroke-width="0.81" stroke-linejoin="round" font-family="Liberation Sans, sans-serif" textLength="31.1" lengthAdjust="spacingAndGlyphs">2002</text>
<path d="M84.8,278.1H112.2" fill="none" stroke="#0000ff" stroke-width="2.3" stroke-dasharray="12.5 4 1.6 3.8 1.6 3.8 1.6 3.8"/>
<text x="118.1" y="281.3" font-size="12.7" text-anchor="start" fill="#0000ff" stroke="#0000ff" stroke-width="0.81" stroke-linejoin="round" font-family="Liberation Sans, sans-serif" textLength="40.7" lengthAdjust="spacingAndGlyphs">Croton</text>
<text x="166.0" y="281.3" font-size="12.7" text-anchor="start" fill="#0000ff" stroke="#0000ff" stroke-width="0.81" stroke-linejoin="round" font-family="Liberation Sans, sans-serif" textLength="11.2" lengthAdjust="spacingAndGlyphs">et</text>
<text x="184.5" y="281.3" font-size="12.7" text-anchor="start" fill="#0000ff" stroke="#0000ff" stroke-width="0.81" stroke-linejoin="round" font-family="Liberation Sans, sans-serif" textLength="13.5" lengthAdjust="spacingAndGlyphs">al.</text>
<text x="205.8" y="281.3" font-size="12.7" text-anchor="start" fill="#0000ff" stroke="#0000ff" stroke-width="0.81" stroke-linejoin="round" font-family="Liberation Sans, sans-serif" textLength="31.6" lengthAdjust="spacingAndGlyphs">2005</text>
<path d="M84.8,476.4H110.5" fill="none" stroke="#0000ff" stroke-width="2.3" stroke-dasharray="8.2 3.3 1.7 3.3"/>
<text x="117.9" y="480.4" font-size="12.5" text-anchor="start" fill="#0000ff" stroke="#0000ff" stroke-width="0.82" stroke-linejoin="round" font-family="Liberation Sans, sans-serif" textLength="69.7" lengthAdjust="spacingAndGlyphs">COMBO−17</text>
<path d="M84.8,494.1H108" fill="none" stroke="#ff0000" stroke-width="2.3" stroke-dasharray="8.5 6.9"/>
<text x="117.9" y="498.4" font-size="12.5" text-anchor="start" fill="#ff0000" stroke="#ff0000" stroke-width="0.82" stroke-linejoin="round" font-family="Liberation Sans, sans-serif" textLength="39.2" lengthAdjust="spacingAndGlyphs">DEEP2</text>
<path d="M84.8,710.7H110.5" fill="none" stroke="#0000ff" stroke-width="2.3" stroke-dasharray="8.2 3.3 1.7 3.3"/>
<text x="117.9" y="714.7" font-size="12.5" text-anchor="start" fill="#0000ff" stroke="#0000ff" stroke-width="0.82" stroke-linejoin="round" font-family="Liberation Sans, sans-serif" textLength="69.7" lengthAdjust="spacingAndGlyphs">COMBO−17</text>
<path d="M84.8,728.4000000000001H108" fill="none" stroke="#ff0000" stroke-width="2.3" stroke-dasharray="8.5 6.9"/>
<text x="117.9" y="732.7" font-size="12.5" text-anchor="start" fill="#ff0000" stroke="#ff0000" stroke-width="0.82" stroke-linejoin="round" font-family="Liberation Sans, sans-serif" textLength="39.2" lengthAdjust="spacingAndGlyphs">DEEP2</text>
</svg></body></html>
